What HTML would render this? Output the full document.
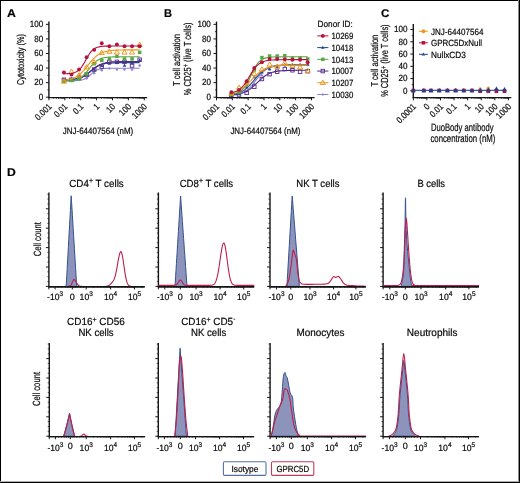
<!DOCTYPE html>
<html><head><meta charset="utf-8"><style>
html,body{margin:0;padding:0;background:#fff;width:520px;height:483px;overflow:hidden}
svg text{font-family:"Liberation Sans",sans-serif;stroke:#231f20;stroke-width:0.22px}
</style></head><body>
<svg width="520" height="483" viewBox="0 0 520 483" text-rendering="geometricPrecision" style="display:block;will-change:transform;font-family:&quot;Liberation Sans&quot;, sans-serif">
<rect width="520" height="483" fill="#fff"/>
<text x="7.00" y="16.60" font-size="11.2" font-weight="bold" textLength="8.9" lengthAdjust="spacingAndGlyphs" fill="#000" >A</text>
<line x1="48.90" y1="21.60" x2="48.90" y2="97.90" stroke="#151515" stroke-width="1.4" />
<line x1="48.30" y1="97.60" x2="147.10" y2="97.60" stroke="#151515" stroke-width="1.4" />
<line x1="45.90" y1="97.20" x2="48.90" y2="97.20" stroke="#151515" stroke-width="1.0" />
<text x="43.30" y="99.90" font-size="9.0" text-anchor="end" textLength="4.5" lengthAdjust="spacingAndGlyphs" >0</text>
<line x1="45.90" y1="82.63" x2="48.90" y2="82.63" stroke="#151515" stroke-width="1.0" />
<text x="43.30" y="85.33" font-size="9.0" text-anchor="end" textLength="9.01" lengthAdjust="spacingAndGlyphs" >20</text>
<line x1="45.90" y1="68.06" x2="48.90" y2="68.06" stroke="#151515" stroke-width="1.0" />
<text x="43.30" y="70.76" font-size="9.0" text-anchor="end" textLength="9.01" lengthAdjust="spacingAndGlyphs" >40</text>
<line x1="45.90" y1="53.49" x2="48.90" y2="53.49" stroke="#151515" stroke-width="1.0" />
<text x="43.30" y="56.19" font-size="9.0" text-anchor="end" textLength="9.01" lengthAdjust="spacingAndGlyphs" >60</text>
<line x1="45.90" y1="38.92" x2="48.90" y2="38.92" stroke="#151515" stroke-width="1.0" />
<text x="43.30" y="41.62" font-size="9.0" text-anchor="end" textLength="9.01" lengthAdjust="spacingAndGlyphs" >80</text>
<line x1="45.90" y1="24.35" x2="48.90" y2="24.35" stroke="#151515" stroke-width="1.0" />
<text x="43.30" y="27.05" font-size="9.0" text-anchor="end" textLength="13.51" lengthAdjust="spacingAndGlyphs" >100</text>
<line x1="47.30" y1="89.92" x2="48.90" y2="89.92" stroke="#151515" stroke-width="0.8" />
<line x1="47.30" y1="75.34" x2="48.90" y2="75.34" stroke="#151515" stroke-width="0.8" />
<line x1="47.30" y1="60.77" x2="48.90" y2="60.77" stroke="#151515" stroke-width="0.8" />
<line x1="47.30" y1="46.20" x2="48.90" y2="46.20" stroke="#151515" stroke-width="0.8" />
<line x1="47.30" y1="31.64" x2="48.90" y2="31.64" stroke="#151515" stroke-width="0.8" />
<line x1="48.90" y1="97.30" x2="48.90" y2="100.30" stroke="#151515" stroke-width="1.0" />
<line x1="53.69" y1="97.30" x2="53.69" y2="98.90" stroke="#151515" stroke-width="0.7" />
<line x1="56.49" y1="97.30" x2="56.49" y2="98.90" stroke="#151515" stroke-width="0.7" />
<line x1="58.47" y1="97.30" x2="58.47" y2="98.90" stroke="#151515" stroke-width="0.7" />
<line x1="60.01" y1="97.30" x2="60.01" y2="98.90" stroke="#151515" stroke-width="0.7" />
<line x1="61.27" y1="97.30" x2="61.27" y2="98.90" stroke="#151515" stroke-width="0.7" />
<line x1="62.34" y1="97.30" x2="62.34" y2="98.90" stroke="#151515" stroke-width="0.7" />
<line x1="63.26" y1="97.30" x2="63.26" y2="98.90" stroke="#151515" stroke-width="0.7" />
<line x1="64.07" y1="97.30" x2="64.07" y2="98.90" stroke="#151515" stroke-width="0.7" />
<text x="52.25" y="107.10" font-size="9.0" text-anchor="end" textLength="19.37" lengthAdjust="spacingAndGlyphs" transform="rotate(-45 52.25 107.10)" >0.001</text>
<line x1="64.80" y1="97.30" x2="64.80" y2="100.30" stroke="#151515" stroke-width="1.0" />
<line x1="69.59" y1="97.30" x2="69.59" y2="98.90" stroke="#151515" stroke-width="0.7" />
<line x1="72.39" y1="97.30" x2="72.39" y2="98.90" stroke="#151515" stroke-width="0.7" />
<line x1="74.37" y1="97.30" x2="74.37" y2="98.90" stroke="#151515" stroke-width="0.7" />
<line x1="75.91" y1="97.30" x2="75.91" y2="98.90" stroke="#151515" stroke-width="0.7" />
<line x1="77.17" y1="97.30" x2="77.17" y2="98.90" stroke="#151515" stroke-width="0.7" />
<line x1="78.24" y1="97.30" x2="78.24" y2="98.90" stroke="#151515" stroke-width="0.7" />
<line x1="79.16" y1="97.30" x2="79.16" y2="98.90" stroke="#151515" stroke-width="0.7" />
<line x1="79.97" y1="97.30" x2="79.97" y2="98.90" stroke="#151515" stroke-width="0.7" />
<text x="68.15" y="107.10" font-size="9.0" text-anchor="end" textLength="15.06" lengthAdjust="spacingAndGlyphs" transform="rotate(-45 68.15 107.10)" >0.01</text>
<line x1="80.70" y1="97.30" x2="80.70" y2="100.30" stroke="#151515" stroke-width="1.0" />
<line x1="85.49" y1="97.30" x2="85.49" y2="98.90" stroke="#151515" stroke-width="0.7" />
<line x1="88.29" y1="97.30" x2="88.29" y2="98.90" stroke="#151515" stroke-width="0.7" />
<line x1="90.27" y1="97.30" x2="90.27" y2="98.90" stroke="#151515" stroke-width="0.7" />
<line x1="91.81" y1="97.30" x2="91.81" y2="98.90" stroke="#151515" stroke-width="0.7" />
<line x1="93.07" y1="97.30" x2="93.07" y2="98.90" stroke="#151515" stroke-width="0.7" />
<line x1="94.14" y1="97.30" x2="94.14" y2="98.90" stroke="#151515" stroke-width="0.7" />
<line x1="95.06" y1="97.30" x2="95.06" y2="98.90" stroke="#151515" stroke-width="0.7" />
<line x1="95.87" y1="97.30" x2="95.87" y2="98.90" stroke="#151515" stroke-width="0.7" />
<text x="84.05" y="107.10" font-size="9.0" text-anchor="end" textLength="10.76" lengthAdjust="spacingAndGlyphs" transform="rotate(-45 84.05 107.10)" >0.1</text>
<line x1="96.60" y1="97.30" x2="96.60" y2="100.30" stroke="#151515" stroke-width="1.0" />
<line x1="101.39" y1="97.30" x2="101.39" y2="98.90" stroke="#151515" stroke-width="0.7" />
<line x1="104.19" y1="97.30" x2="104.19" y2="98.90" stroke="#151515" stroke-width="0.7" />
<line x1="106.17" y1="97.30" x2="106.17" y2="98.90" stroke="#151515" stroke-width="0.7" />
<line x1="107.71" y1="97.30" x2="107.71" y2="98.90" stroke="#151515" stroke-width="0.7" />
<line x1="108.97" y1="97.30" x2="108.97" y2="98.90" stroke="#151515" stroke-width="0.7" />
<line x1="110.04" y1="97.30" x2="110.04" y2="98.90" stroke="#151515" stroke-width="0.7" />
<line x1="110.96" y1="97.30" x2="110.96" y2="98.90" stroke="#151515" stroke-width="0.7" />
<line x1="111.77" y1="97.30" x2="111.77" y2="98.90" stroke="#151515" stroke-width="0.7" />
<text x="99.95" y="107.10" font-size="9.0" text-anchor="end" textLength="4.3" lengthAdjust="spacingAndGlyphs" transform="rotate(-45 99.95 107.10)" >1</text>
<line x1="112.50" y1="97.30" x2="112.50" y2="100.30" stroke="#151515" stroke-width="1.0" />
<line x1="117.29" y1="97.30" x2="117.29" y2="98.90" stroke="#151515" stroke-width="0.7" />
<line x1="120.09" y1="97.30" x2="120.09" y2="98.90" stroke="#151515" stroke-width="0.7" />
<line x1="122.07" y1="97.30" x2="122.07" y2="98.90" stroke="#151515" stroke-width="0.7" />
<line x1="123.61" y1="97.30" x2="123.61" y2="98.90" stroke="#151515" stroke-width="0.7" />
<line x1="124.87" y1="97.30" x2="124.87" y2="98.90" stroke="#151515" stroke-width="0.7" />
<line x1="125.94" y1="97.30" x2="125.94" y2="98.90" stroke="#151515" stroke-width="0.7" />
<line x1="126.86" y1="97.30" x2="126.86" y2="98.90" stroke="#151515" stroke-width="0.7" />
<line x1="127.67" y1="97.30" x2="127.67" y2="98.90" stroke="#151515" stroke-width="0.7" />
<text x="115.85" y="107.10" font-size="9.0" text-anchor="end" textLength="8.61" lengthAdjust="spacingAndGlyphs" transform="rotate(-45 115.85 107.10)" >10</text>
<line x1="128.40" y1="97.30" x2="128.40" y2="100.30" stroke="#151515" stroke-width="1.0" />
<line x1="133.19" y1="97.30" x2="133.19" y2="98.90" stroke="#151515" stroke-width="0.7" />
<line x1="135.99" y1="97.30" x2="135.99" y2="98.90" stroke="#151515" stroke-width="0.7" />
<line x1="137.97" y1="97.30" x2="137.97" y2="98.90" stroke="#151515" stroke-width="0.7" />
<line x1="139.51" y1="97.30" x2="139.51" y2="98.90" stroke="#151515" stroke-width="0.7" />
<line x1="140.77" y1="97.30" x2="140.77" y2="98.90" stroke="#151515" stroke-width="0.7" />
<line x1="141.84" y1="97.30" x2="141.84" y2="98.90" stroke="#151515" stroke-width="0.7" />
<line x1="142.76" y1="97.30" x2="142.76" y2="98.90" stroke="#151515" stroke-width="0.7" />
<line x1="143.57" y1="97.30" x2="143.57" y2="98.90" stroke="#151515" stroke-width="0.7" />
<text x="131.75" y="107.10" font-size="9.0" text-anchor="end" textLength="12.91" lengthAdjust="spacingAndGlyphs" transform="rotate(-45 131.75 107.10)" >100</text>
<line x1="144.30" y1="97.30" x2="144.30" y2="100.30" stroke="#151515" stroke-width="1.0" />
<text x="147.65" y="107.10" font-size="9.0" text-anchor="end" textLength="17.22" lengthAdjust="spacingAndGlyphs" transform="rotate(-45 147.65 107.10)" >1000</text>
<polyline points="63.46,80.80 64.25,80.80 65.05,80.80 65.84,80.80 66.63,80.80 67.43,80.79 68.22,80.79 69.02,80.79 69.81,80.78 70.60,80.77 71.40,80.76 72.19,80.75 72.99,80.74 73.78,80.72 74.57,80.69 75.37,80.67 76.16,80.63 76.95,80.58 77.75,80.53 78.54,80.46 79.34,80.37 80.13,80.26 80.92,80.12 81.72,79.96 82.51,79.76 83.30,79.51 84.10,79.22 84.89,78.87 85.69,78.46 86.48,77.99 87.27,77.45 88.07,76.86 88.86,76.21 89.66,75.51 90.45,74.80 91.24,74.07 92.04,73.36 92.83,72.68 93.62,72.04 94.42,71.45 95.21,70.93 96.01,70.47 96.80,70.07 97.59,69.73 98.39,69.45 99.18,69.22 99.98,69.02 100.77,68.86 101.56,68.73 102.36,68.63 103.15,68.54 103.94,68.48 104.74,68.42 105.53,68.38 106.33,68.34 107.12,68.31 107.91,68.29 108.71,68.27 109.50,68.26 110.29,68.25 111.09,68.24 111.88,68.23 112.68,68.23 113.47,68.22 114.26,68.22 115.06,68.22 115.85,68.21 116.65,68.21 117.44,68.21 118.23,68.21 119.03,68.21 119.82,68.21 120.61,68.21 121.41,68.21 122.20,68.21 123.00,68.21 123.79,68.21 124.58,68.21 125.38,68.21 126.17,68.21 126.97,68.21 127.76,68.21 128.55,68.21 129.35,68.21 130.14,68.21 130.93,68.21 131.73,68.21 132.52,68.21 133.32,68.21 134.11,68.21 134.90,68.21 135.70,68.21 136.49,68.21 137.28,68.21 138.08,68.21 138.87,68.21 139.67,68.21" fill="none" stroke="#8a80cf" stroke-width="1.15"/>
<circle cx="63.90" cy="80.44" r="1.20" fill="#8a80cf"/>
<circle cx="71.47" cy="80.44" r="1.20" fill="#8a80cf"/>
<circle cx="79.05" cy="79.72" r="1.20" fill="#8a80cf"/>
<circle cx="86.62" cy="78.26" r="1.20" fill="#8a80cf"/>
<circle cx="94.20" cy="73.16" r="1.20" fill="#8a80cf"/>
<circle cx="101.78" cy="70.25" r="1.20" fill="#8a80cf"/>
<circle cx="109.35" cy="68.42" r="1.20" fill="#8a80cf"/>
<circle cx="116.92" cy="69.52" r="1.20" fill="#8a80cf"/>
<circle cx="124.50" cy="69.52" r="1.20" fill="#8a80cf"/>
<circle cx="132.07" cy="69.52" r="1.20" fill="#8a80cf"/>
<circle cx="139.65" cy="65.51" r="1.20" fill="#8a80cf"/>
<polyline points="63.46,79.61 64.25,79.59 65.05,79.57 65.84,79.55 66.63,79.53 67.43,79.50 68.22,79.46 69.02,79.42 69.81,79.37 70.60,79.32 71.40,79.26 72.19,79.19 72.99,79.10 73.78,79.01 74.57,78.90 75.37,78.77 76.16,78.63 76.95,78.47 77.75,78.29 78.54,78.08 79.34,77.84 80.13,77.58 80.92,77.28 81.72,76.95 82.51,76.58 83.30,76.18 84.10,75.75 84.89,75.27 85.69,74.76 86.48,74.22 87.27,73.64 88.07,73.05 88.86,72.43 89.66,71.80 90.45,71.16 91.24,70.52 92.04,69.88 92.83,69.27 93.62,68.67 94.42,68.09 95.21,67.55 96.01,67.04 96.80,66.57 97.59,66.13 98.39,65.73 99.18,65.36 99.98,65.03 100.77,64.74 101.56,64.47 102.36,64.24 103.15,64.03 103.94,63.84 104.74,63.68 105.53,63.54 106.33,63.41 107.12,63.30 107.91,63.21 108.71,63.13 109.50,63.06 110.29,62.99 111.09,62.94 111.88,62.89 112.68,62.85 113.47,62.82 114.26,62.79 115.06,62.76 115.85,62.74 116.65,62.72 117.44,62.70 118.23,62.69 119.03,62.67 119.82,62.66 120.61,62.65 121.41,62.65 122.20,62.64 123.00,62.63 123.79,62.63 124.58,62.62 125.38,62.62 126.17,62.62 126.97,62.61 127.76,62.61 128.55,62.61 129.35,62.61 130.14,62.61 130.93,62.60 131.73,62.60 132.52,62.60 133.32,62.60 134.11,62.60 134.90,62.60 135.70,62.60 136.49,62.60 137.28,62.60 138.08,62.60 138.87,62.60 139.67,62.60" fill="none" stroke="#24478f" stroke-width="1.15"/>
<path d="M63.90,77.82 L65.70,80.86 L62.09,80.86Z" fill="#24478f"/>
<path d="M71.47,77.09 L73.28,80.13 L69.67,80.13Z" fill="#24478f"/>
<path d="M79.05,75.63 L80.86,78.67 L77.24,78.67Z" fill="#24478f"/>
<path d="M86.62,72.72 L88.43,75.76 L84.82,75.76Z" fill="#24478f"/>
<path d="M94.20,67.62 L96.01,70.66 L92.39,70.66Z" fill="#24478f"/>
<path d="M101.78,63.97 L103.58,67.01 L99.97,67.01Z" fill="#24478f"/>
<path d="M109.35,61.79 L111.16,64.83 L107.54,64.83Z" fill="#24478f"/>
<path d="M116.92,61.06 L118.73,64.10 L115.12,64.10Z" fill="#24478f"/>
<path d="M124.50,63.61 L126.31,66.65 L122.69,66.65Z" fill="#24478f"/>
<path d="M132.07,61.79 L133.88,64.83 L130.27,64.83Z" fill="#24478f"/>
<path d="M139.65,58.15 L141.46,61.19 L137.84,61.19Z" fill="#24478f"/>
<polyline points="63.46,80.32 64.25,80.30 65.05,80.28 65.84,80.25 66.63,80.22 67.43,80.19 68.22,80.15 69.02,80.10 69.81,80.05 70.60,79.99 71.40,79.93 72.19,79.85 72.99,79.76 73.78,79.66 74.57,79.54 75.37,79.41 76.16,79.26 76.95,79.09 77.75,78.89 78.54,78.68 79.34,78.43 80.13,78.16 80.92,77.85 81.72,77.51 82.51,77.14 83.30,76.73 84.10,76.28 84.89,75.79 85.69,75.27 86.48,74.71 87.27,74.12 88.07,73.50 88.86,72.86 89.66,72.19 90.45,71.52 91.24,70.84 92.04,70.16 92.83,69.49 93.62,68.83 94.42,68.20 95.21,67.59 96.01,67.01 96.80,66.46 97.59,65.96 98.39,65.48 99.18,65.05 99.98,64.65 100.77,64.29 101.56,63.97 102.36,63.68 103.15,63.41 103.94,63.18 104.74,62.97 105.53,62.79 106.33,62.63 107.12,62.48 107.91,62.36 108.71,62.25 109.50,62.15 110.29,62.07 111.09,61.99 111.88,61.93 112.68,61.87 113.47,61.83 114.26,61.78 115.06,61.75 115.85,61.71 116.65,61.69 117.44,61.66 118.23,61.64 119.03,61.62 119.82,61.61 120.61,61.59 121.41,61.58 122.20,61.57 123.00,61.56 123.79,61.55 124.58,61.55 125.38,61.54 126.17,61.54 126.97,61.53 127.76,61.53 128.55,61.52 129.35,61.52 130.14,61.52 130.93,61.52 131.73,61.52 132.52,61.51 133.32,61.51 134.11,61.51 134.90,61.51 135.70,61.51 136.49,61.51 137.28,61.51 138.08,61.51 138.87,61.51 139.67,61.51" fill="none" stroke="#562a8a" stroke-width="1.15"/>
<rect x="62.15" y="77.97" width="3.50" height="3.50" fill="none" stroke="#562a8a" stroke-width="0.9"/>
<rect x="69.72" y="77.97" width="3.50" height="3.50" fill="none" stroke="#562a8a" stroke-width="0.9"/>
<rect x="77.30" y="75.78" width="3.50" height="3.50" fill="none" stroke="#562a8a" stroke-width="0.9"/>
<rect x="84.88" y="72.87" width="3.50" height="3.50" fill="none" stroke="#562a8a" stroke-width="0.9"/>
<rect x="92.45" y="67.77" width="3.50" height="3.50" fill="none" stroke="#562a8a" stroke-width="0.9"/>
<rect x="100.03" y="64.85" width="3.50" height="3.50" fill="none" stroke="#562a8a" stroke-width="0.9"/>
<rect x="107.60" y="60.12" width="3.50" height="3.50" fill="none" stroke="#562a8a" stroke-width="0.9"/>
<rect x="115.17" y="60.12" width="3.50" height="3.50" fill="none" stroke="#562a8a" stroke-width="0.9"/>
<rect x="122.75" y="60.12" width="3.50" height="3.50" fill="none" stroke="#562a8a" stroke-width="0.9"/>
<rect x="130.32" y="63.76" width="3.50" height="3.50" fill="none" stroke="#562a8a" stroke-width="0.9"/>
<rect x="137.90" y="57.93" width="3.50" height="3.50" fill="none" stroke="#562a8a" stroke-width="0.9"/>
<polyline points="63.46,81.06 64.25,81.04 65.05,81.02 65.84,80.99 66.63,80.95 67.43,80.92 68.22,80.87 69.02,80.81 69.81,80.75 70.60,80.68 71.40,80.59 72.19,80.48 72.99,80.36 73.78,80.22 74.57,80.06 75.37,79.87 76.16,79.64 76.95,79.38 77.75,79.09 78.54,78.75 79.34,78.36 80.13,77.91 80.92,77.41 81.72,76.85 82.51,76.22 83.30,75.53 84.10,74.78 84.89,73.96 85.69,73.08 86.48,72.15 87.27,71.19 88.07,70.19 88.86,69.17 89.66,68.16 90.45,67.15 91.24,66.17 92.04,65.23 92.83,64.33 93.62,63.49 94.42,62.70 95.21,61.99 96.01,61.33 96.80,60.75 97.59,60.22 98.39,59.76 99.18,59.34 99.98,58.98 100.77,58.67 101.56,58.40 102.36,58.16 103.15,57.96 103.94,57.78 104.74,57.63 105.53,57.50 106.33,57.39 107.12,57.30 107.91,57.22 108.71,57.15 109.50,57.09 110.29,57.04 111.09,57.00 111.88,56.97 112.68,56.94 113.47,56.91 114.26,56.89 115.06,56.87 115.85,56.85 116.65,56.84 117.44,56.83 118.23,56.82 119.03,56.81 119.82,56.81 120.61,56.80 121.41,56.80 122.20,56.79 123.00,56.79 123.79,56.78 124.58,56.78 125.38,56.78 126.17,56.78 126.97,56.78 127.76,56.78 128.55,56.77 129.35,56.77 130.14,56.77 130.93,56.77 131.73,56.77 132.52,56.77 133.32,56.77 134.11,56.77 134.90,56.77 135.70,56.77 136.49,56.77 137.28,56.77 138.08,56.77 138.87,56.77 139.67,56.77" fill="none" stroke="#58a843" stroke-width="1.15"/>
<rect x="62.15" y="79.42" width="3.50" height="3.50" fill="#58a843"/>
<rect x="69.72" y="78.69" width="3.50" height="3.50" fill="#58a843"/>
<rect x="77.30" y="77.24" width="3.50" height="3.50" fill="#58a843"/>
<rect x="84.88" y="72.14" width="3.50" height="3.50" fill="#58a843"/>
<rect x="92.45" y="61.94" width="3.50" height="3.50" fill="#58a843"/>
<rect x="100.03" y="58.66" width="3.50" height="3.50" fill="#58a843"/>
<rect x="107.60" y="57.20" width="3.50" height="3.50" fill="#58a843"/>
<rect x="115.17" y="54.65" width="3.50" height="3.50" fill="#58a843"/>
<rect x="122.75" y="57.20" width="3.50" height="3.50" fill="#58a843"/>
<rect x="130.32" y="57.20" width="3.50" height="3.50" fill="#58a843"/>
<rect x="137.90" y="50.65" width="3.50" height="3.50" fill="#58a843"/>
<polyline points="63.46,80.24 64.25,80.16 65.05,80.07 65.84,79.97 66.63,79.86 67.43,79.74 68.22,79.59 69.02,79.43 69.81,79.25 70.60,79.05 71.40,78.83 72.19,78.57 72.99,78.29 73.78,77.98 74.57,77.63 75.37,77.24 76.16,76.81 76.95,76.34 77.75,75.82 78.54,75.26 79.34,74.65 80.13,73.99 80.92,73.28 81.72,72.52 82.51,71.71 83.30,70.86 84.10,69.97 84.89,69.05 85.69,68.09 86.48,67.12 87.27,66.13 88.07,65.13 88.86,64.13 89.66,63.15 90.45,62.18 91.24,61.24 92.04,60.32 92.83,59.45 93.62,58.62 94.42,57.83 95.21,57.09 96.01,56.40 96.80,55.76 97.59,55.17 98.39,54.62 99.18,54.12 99.98,53.67 100.77,53.26 101.56,52.89 102.36,52.55 103.15,52.25 103.94,51.98 104.74,51.74 105.53,51.52 106.33,51.33 107.12,51.16 107.91,51.00 108.71,50.87 109.50,50.75 110.29,50.64 111.09,50.55 111.88,50.47 112.68,50.39 113.47,50.33 114.26,50.27 115.06,50.22 115.85,50.17 116.65,50.14 117.44,50.10 118.23,50.07 119.03,50.04 119.82,50.02 120.61,50.00 121.41,49.98 122.20,49.96 123.00,49.95 123.79,49.94 124.58,49.93 125.38,49.92 126.17,49.91 126.97,49.90 127.76,49.90 128.55,49.89 129.35,49.88 130.14,49.88 130.93,49.88 131.73,49.87 132.52,49.87 133.32,49.87 134.11,49.86 134.90,49.86 135.70,49.86 136.49,49.86 137.28,49.86 138.08,49.86 138.87,49.86 139.67,49.85" fill="none" stroke="#ec981c" stroke-width="1.15"/>
<path d="M63.90,78.84 L66.47,83.16 L61.34,83.16Z" fill="none" stroke="#ec981c" stroke-width="1.0"/>
<path d="M71.47,69.00 L74.04,73.32 L68.91,73.32Z" fill="none" stroke="#ec981c" stroke-width="1.0"/>
<path d="M79.05,72.64 L81.61,76.97 L76.48,76.97Z" fill="none" stroke="#ec981c" stroke-width="1.0"/>
<path d="M86.62,64.63 L89.19,68.95 L84.06,68.95Z" fill="none" stroke="#ec981c" stroke-width="1.0"/>
<path d="M94.20,59.53 L96.77,63.85 L91.64,63.85Z" fill="none" stroke="#ec981c" stroke-width="1.0"/>
<path d="M101.78,50.06 L104.34,54.38 L99.21,54.38Z" fill="none" stroke="#ec981c" stroke-width="1.0"/>
<path d="M109.35,48.97 L111.91,53.29 L106.78,53.29Z" fill="none" stroke="#ec981c" stroke-width="1.0"/>
<path d="M116.92,49.70 L119.49,54.02 L114.36,54.02Z" fill="none" stroke="#ec981c" stroke-width="1.0"/>
<path d="M124.50,49.70 L127.06,54.02 L121.94,54.02Z" fill="none" stroke="#ec981c" stroke-width="1.0"/>
<path d="M132.07,49.70 L134.64,54.02 L129.51,54.02Z" fill="none" stroke="#ec981c" stroke-width="1.0"/>
<path d="M139.65,42.05 L142.22,46.37 L137.09,46.37Z" fill="none" stroke="#ec981c" stroke-width="1.0"/>
<polyline points="63.46,73.81 64.25,73.79 65.05,73.77 65.84,73.74 66.63,73.70 67.43,73.66 68.22,73.61 69.02,73.55 69.81,73.47 70.60,73.38 71.40,73.26 72.19,73.12 72.99,72.95 73.78,72.74 74.57,72.49 75.37,72.19 76.16,71.83 76.95,71.39 77.75,70.88 78.54,70.28 79.34,69.58 80.13,68.76 80.92,67.84 81.72,66.80 82.51,65.65 83.30,64.40 84.10,63.06 84.89,61.66 85.69,60.23 86.48,58.78 87.27,57.37 88.07,56.00 88.86,54.71 89.66,53.52 90.45,52.44 91.24,51.47 92.04,50.61 92.83,49.86 93.62,49.22 94.42,48.68 95.21,48.21 96.01,47.82 96.80,47.50 97.59,47.23 98.39,47.00 99.18,46.82 99.98,46.67 100.77,46.54 101.56,46.44 102.36,46.36 103.15,46.29 103.94,46.23 104.74,46.19 105.53,46.15 106.33,46.12 107.12,46.09 107.91,46.07 108.71,46.06 109.50,46.04 110.29,46.03 111.09,46.02 111.88,46.02 112.68,46.01 113.47,46.01 114.26,46.00 115.06,46.00 115.85,46.00 116.65,46.00 117.44,45.99 118.23,45.99 119.03,45.99 119.82,45.99 120.61,45.99 121.41,45.99 122.20,45.99 123.00,45.99 123.79,45.99 124.58,45.99 125.38,45.99 126.17,45.99 126.97,45.99 127.76,45.99 128.55,45.99 129.35,45.99 130.14,45.99 130.93,45.99 131.73,45.99 132.52,45.99 133.32,45.99 134.11,45.99 134.90,45.99 135.70,45.99 136.49,45.99 137.28,45.99 138.08,45.99 138.87,45.99 139.67,45.99" fill="none" stroke="#b5123f" stroke-width="1.15"/>
<circle cx="63.90" cy="72.43" r="1.95" fill="#b5123f"/>
<circle cx="71.47" cy="74.62" r="1.95" fill="#b5123f"/>
<circle cx="79.05" cy="69.52" r="1.95" fill="#b5123f"/>
<circle cx="86.62" cy="57.13" r="1.95" fill="#b5123f"/>
<circle cx="94.20" cy="49.85" r="1.95" fill="#b5123f"/>
<circle cx="101.78" cy="43.29" r="1.95" fill="#b5123f"/>
<circle cx="109.35" cy="46.20" r="1.95" fill="#b5123f"/>
<circle cx="116.92" cy="44.38" r="1.95" fill="#b5123f"/>
<circle cx="124.50" cy="46.20" r="1.95" fill="#b5123f"/>
<circle cx="132.07" cy="46.20" r="1.95" fill="#b5123f"/>
<circle cx="139.65" cy="46.20" r="1.95" fill="#b5123f"/>
<text x="24.40" y="59.60" font-size="10" text-anchor="middle" textLength="51" lengthAdjust="spacingAndGlyphs" transform="rotate(-90 24.40 59.60)" >Cytotoxicity (%)</text>
<text x="98.00" y="133.50" font-size="9.2" text-anchor="middle" textLength="70.4" lengthAdjust="spacingAndGlyphs" >JNJ-64407564 (nM)</text>
<text x="164.00" y="16.60" font-size="11.2" font-weight="bold" textLength="8.0" lengthAdjust="spacingAndGlyphs" fill="#000" >B</text>
<line x1="216.50" y1="21.60" x2="216.50" y2="97.90" stroke="#151515" stroke-width="1.4" />
<line x1="215.90" y1="97.60" x2="314.50" y2="97.60" stroke="#151515" stroke-width="1.4" />
<line x1="213.50" y1="97.20" x2="216.50" y2="97.20" stroke="#151515" stroke-width="1.0" />
<text x="210.90" y="99.90" font-size="9.0" text-anchor="end" textLength="4.5" lengthAdjust="spacingAndGlyphs" >0</text>
<line x1="213.50" y1="82.63" x2="216.50" y2="82.63" stroke="#151515" stroke-width="1.0" />
<text x="210.90" y="85.33" font-size="9.0" text-anchor="end" textLength="9.01" lengthAdjust="spacingAndGlyphs" >20</text>
<line x1="213.50" y1="68.06" x2="216.50" y2="68.06" stroke="#151515" stroke-width="1.0" />
<text x="210.90" y="70.76" font-size="9.0" text-anchor="end" textLength="9.01" lengthAdjust="spacingAndGlyphs" >40</text>
<line x1="213.50" y1="53.49" x2="216.50" y2="53.49" stroke="#151515" stroke-width="1.0" />
<text x="210.90" y="56.19" font-size="9.0" text-anchor="end" textLength="9.01" lengthAdjust="spacingAndGlyphs" >60</text>
<line x1="213.50" y1="38.92" x2="216.50" y2="38.92" stroke="#151515" stroke-width="1.0" />
<text x="210.90" y="41.62" font-size="9.0" text-anchor="end" textLength="9.01" lengthAdjust="spacingAndGlyphs" >80</text>
<line x1="213.50" y1="24.35" x2="216.50" y2="24.35" stroke="#151515" stroke-width="1.0" />
<text x="210.90" y="27.05" font-size="9.0" text-anchor="end" textLength="13.51" lengthAdjust="spacingAndGlyphs" >100</text>
<line x1="214.90" y1="89.92" x2="216.50" y2="89.92" stroke="#151515" stroke-width="0.8" />
<line x1="214.90" y1="75.34" x2="216.50" y2="75.34" stroke="#151515" stroke-width="0.8" />
<line x1="214.90" y1="60.77" x2="216.50" y2="60.77" stroke="#151515" stroke-width="0.8" />
<line x1="214.90" y1="46.20" x2="216.50" y2="46.20" stroke="#151515" stroke-width="0.8" />
<line x1="214.90" y1="31.64" x2="216.50" y2="31.64" stroke="#151515" stroke-width="0.8" />
<line x1="216.50" y1="97.30" x2="216.50" y2="100.30" stroke="#151515" stroke-width="1.0" />
<line x1="221.27" y1="97.30" x2="221.27" y2="98.90" stroke="#151515" stroke-width="0.7" />
<line x1="224.05" y1="97.30" x2="224.05" y2="98.90" stroke="#151515" stroke-width="0.7" />
<line x1="226.03" y1="97.30" x2="226.03" y2="98.90" stroke="#151515" stroke-width="0.7" />
<line x1="227.56" y1="97.30" x2="227.56" y2="98.90" stroke="#151515" stroke-width="0.7" />
<line x1="228.82" y1="97.30" x2="228.82" y2="98.90" stroke="#151515" stroke-width="0.7" />
<line x1="229.88" y1="97.30" x2="229.88" y2="98.90" stroke="#151515" stroke-width="0.7" />
<line x1="230.80" y1="97.30" x2="230.80" y2="98.90" stroke="#151515" stroke-width="0.7" />
<line x1="231.61" y1="97.30" x2="231.61" y2="98.90" stroke="#151515" stroke-width="0.7" />
<text x="219.85" y="107.10" font-size="9.0" text-anchor="end" textLength="19.37" lengthAdjust="spacingAndGlyphs" transform="rotate(-45 219.85 107.10)" >0.001</text>
<line x1="232.33" y1="97.30" x2="232.33" y2="100.30" stroke="#151515" stroke-width="1.0" />
<line x1="237.10" y1="97.30" x2="237.10" y2="98.90" stroke="#151515" stroke-width="0.7" />
<line x1="239.88" y1="97.30" x2="239.88" y2="98.90" stroke="#151515" stroke-width="0.7" />
<line x1="241.86" y1="97.30" x2="241.86" y2="98.90" stroke="#151515" stroke-width="0.7" />
<line x1="243.39" y1="97.30" x2="243.39" y2="98.90" stroke="#151515" stroke-width="0.7" />
<line x1="244.65" y1="97.30" x2="244.65" y2="98.90" stroke="#151515" stroke-width="0.7" />
<line x1="245.71" y1="97.30" x2="245.71" y2="98.90" stroke="#151515" stroke-width="0.7" />
<line x1="246.63" y1="97.30" x2="246.63" y2="98.90" stroke="#151515" stroke-width="0.7" />
<line x1="247.44" y1="97.30" x2="247.44" y2="98.90" stroke="#151515" stroke-width="0.7" />
<text x="235.68" y="107.10" font-size="9.0" text-anchor="end" textLength="15.06" lengthAdjust="spacingAndGlyphs" transform="rotate(-45 235.68 107.10)" >0.01</text>
<line x1="248.16" y1="97.30" x2="248.16" y2="100.30" stroke="#151515" stroke-width="1.0" />
<line x1="252.93" y1="97.30" x2="252.93" y2="98.90" stroke="#151515" stroke-width="0.7" />
<line x1="255.71" y1="97.30" x2="255.71" y2="98.90" stroke="#151515" stroke-width="0.7" />
<line x1="257.69" y1="97.30" x2="257.69" y2="98.90" stroke="#151515" stroke-width="0.7" />
<line x1="259.22" y1="97.30" x2="259.22" y2="98.90" stroke="#151515" stroke-width="0.7" />
<line x1="260.48" y1="97.30" x2="260.48" y2="98.90" stroke="#151515" stroke-width="0.7" />
<line x1="261.54" y1="97.30" x2="261.54" y2="98.90" stroke="#151515" stroke-width="0.7" />
<line x1="262.46" y1="97.30" x2="262.46" y2="98.90" stroke="#151515" stroke-width="0.7" />
<line x1="263.27" y1="97.30" x2="263.27" y2="98.90" stroke="#151515" stroke-width="0.7" />
<text x="251.51" y="107.10" font-size="9.0" text-anchor="end" textLength="10.76" lengthAdjust="spacingAndGlyphs" transform="rotate(-45 251.51 107.10)" >0.1</text>
<line x1="263.99" y1="97.30" x2="263.99" y2="100.30" stroke="#151515" stroke-width="1.0" />
<line x1="268.76" y1="97.30" x2="268.76" y2="98.90" stroke="#151515" stroke-width="0.7" />
<line x1="271.54" y1="97.30" x2="271.54" y2="98.90" stroke="#151515" stroke-width="0.7" />
<line x1="273.52" y1="97.30" x2="273.52" y2="98.90" stroke="#151515" stroke-width="0.7" />
<line x1="275.05" y1="97.30" x2="275.05" y2="98.90" stroke="#151515" stroke-width="0.7" />
<line x1="276.31" y1="97.30" x2="276.31" y2="98.90" stroke="#151515" stroke-width="0.7" />
<line x1="277.37" y1="97.30" x2="277.37" y2="98.90" stroke="#151515" stroke-width="0.7" />
<line x1="278.29" y1="97.30" x2="278.29" y2="98.90" stroke="#151515" stroke-width="0.7" />
<line x1="279.10" y1="97.30" x2="279.10" y2="98.90" stroke="#151515" stroke-width="0.7" />
<text x="267.34" y="107.10" font-size="9.0" text-anchor="end" textLength="4.3" lengthAdjust="spacingAndGlyphs" transform="rotate(-45 267.34 107.10)" >1</text>
<line x1="279.82" y1="97.30" x2="279.82" y2="100.30" stroke="#151515" stroke-width="1.0" />
<line x1="284.59" y1="97.30" x2="284.59" y2="98.90" stroke="#151515" stroke-width="0.7" />
<line x1="287.37" y1="97.30" x2="287.37" y2="98.90" stroke="#151515" stroke-width="0.7" />
<line x1="289.35" y1="97.30" x2="289.35" y2="98.90" stroke="#151515" stroke-width="0.7" />
<line x1="290.88" y1="97.30" x2="290.88" y2="98.90" stroke="#151515" stroke-width="0.7" />
<line x1="292.14" y1="97.30" x2="292.14" y2="98.90" stroke="#151515" stroke-width="0.7" />
<line x1="293.20" y1="97.30" x2="293.20" y2="98.90" stroke="#151515" stroke-width="0.7" />
<line x1="294.12" y1="97.30" x2="294.12" y2="98.90" stroke="#151515" stroke-width="0.7" />
<line x1="294.93" y1="97.30" x2="294.93" y2="98.90" stroke="#151515" stroke-width="0.7" />
<text x="283.17" y="107.10" font-size="9.0" text-anchor="end" textLength="8.61" lengthAdjust="spacingAndGlyphs" transform="rotate(-45 283.17 107.10)" >10</text>
<line x1="295.65" y1="97.30" x2="295.65" y2="100.30" stroke="#151515" stroke-width="1.0" />
<line x1="300.42" y1="97.30" x2="300.42" y2="98.90" stroke="#151515" stroke-width="0.7" />
<line x1="303.20" y1="97.30" x2="303.20" y2="98.90" stroke="#151515" stroke-width="0.7" />
<line x1="305.18" y1="97.30" x2="305.18" y2="98.90" stroke="#151515" stroke-width="0.7" />
<line x1="306.71" y1="97.30" x2="306.71" y2="98.90" stroke="#151515" stroke-width="0.7" />
<line x1="307.97" y1="97.30" x2="307.97" y2="98.90" stroke="#151515" stroke-width="0.7" />
<line x1="309.03" y1="97.30" x2="309.03" y2="98.90" stroke="#151515" stroke-width="0.7" />
<line x1="309.95" y1="97.30" x2="309.95" y2="98.90" stroke="#151515" stroke-width="0.7" />
<line x1="310.76" y1="97.30" x2="310.76" y2="98.90" stroke="#151515" stroke-width="0.7" />
<text x="299.00" y="107.10" font-size="9.0" text-anchor="end" textLength="12.91" lengthAdjust="spacingAndGlyphs" transform="rotate(-45 299.00 107.10)" >100</text>
<line x1="311.48" y1="97.30" x2="311.48" y2="100.30" stroke="#151515" stroke-width="1.0" />
<text x="314.83" y="107.10" font-size="9.0" text-anchor="end" textLength="17.22" lengthAdjust="spacingAndGlyphs" transform="rotate(-45 314.83 107.10)" >1000</text>
<polyline points="230.96,95.33 231.76,95.27 232.56,95.20 233.35,95.12 234.15,95.03 234.95,94.92 235.75,94.81 236.55,94.67 237.35,94.52 238.15,94.35 238.95,94.15 239.75,93.93 240.55,93.68 241.35,93.39 242.15,93.08 242.95,92.72 243.75,92.32 244.55,91.88 245.35,91.39 246.15,90.85 246.95,90.25 247.75,89.60 248.55,88.89 249.35,88.13 250.15,87.31 250.95,86.45 251.75,85.53 252.54,84.57 253.34,83.57 254.14,82.54 254.94,81.50 255.74,80.44 256.54,79.39 257.34,78.34 258.14,77.32 258.94,76.32 259.74,75.36 260.54,74.44 261.34,73.57 262.14,72.76 262.94,71.99 263.74,71.29 264.54,70.64 265.34,70.04 266.14,69.50 266.94,69.01 267.74,68.57 268.54,68.17 269.34,67.81 270.14,67.50 270.94,67.21 271.74,66.96 272.53,66.74 273.33,66.54 274.13,66.37 274.93,66.22 275.73,66.08 276.53,65.97 277.33,65.86 278.13,65.77 278.93,65.69 279.73,65.62 280.53,65.56 281.33,65.51 282.13,65.46 282.93,65.42 283.73,65.39 284.53,65.36 285.33,65.33 286.13,65.31 286.93,65.29 287.73,65.27 288.53,65.25 289.33,65.24 290.13,65.23 290.93,65.22 291.72,65.21 292.52,65.20 293.32,65.19 294.12,65.19 294.92,65.18 295.72,65.18 296.52,65.17 297.32,65.17 298.12,65.17 298.92,65.16 299.72,65.16 300.52,65.16 301.32,65.16 302.12,65.16 302.92,65.15 303.72,65.15 304.52,65.15 305.32,65.15 306.12,65.15 306.92,65.15 307.72,65.15" fill="none" stroke="#8a80cf" stroke-width="1.15"/>
<circle cx="231.40" cy="95.74" r="1.20" fill="#8a80cf"/>
<circle cx="239.03" cy="94.29" r="1.20" fill="#8a80cf"/>
<circle cx="246.66" cy="91.37" r="1.20" fill="#8a80cf"/>
<circle cx="254.29" cy="84.09" r="1.20" fill="#8a80cf"/>
<circle cx="261.92" cy="75.34" r="1.20" fill="#8a80cf"/>
<circle cx="269.55" cy="69.52" r="1.20" fill="#8a80cf"/>
<circle cx="277.18" cy="67.33" r="1.20" fill="#8a80cf"/>
<circle cx="284.81" cy="65.87" r="1.20" fill="#8a80cf"/>
<circle cx="292.44" cy="65.15" r="1.20" fill="#8a80cf"/>
<circle cx="300.07" cy="65.15" r="1.20" fill="#8a80cf"/>
<circle cx="307.70" cy="65.15" r="1.20" fill="#8a80cf"/>
<polyline points="230.96,94.62 231.76,94.52 232.56,94.41 233.35,94.28 234.15,94.14 234.95,93.98 235.75,93.80 236.55,93.60 237.35,93.38 238.15,93.13 238.95,92.85 239.75,92.54 240.55,92.19 241.35,91.82 242.15,91.40 242.95,90.94 243.75,90.43 244.55,89.89 245.35,89.29 246.15,88.65 246.95,87.96 247.75,87.23 248.55,86.45 249.35,85.63 250.15,84.77 250.95,83.87 251.75,82.95 252.54,82.01 253.34,81.05 254.14,80.08 254.94,79.11 255.74,78.15 256.54,77.21 257.34,76.29 258.14,75.39 258.94,74.53 259.74,73.71 260.54,72.93 261.34,72.20 262.14,71.51 262.94,70.87 263.74,70.27 264.54,69.73 265.34,69.22 266.14,68.76 266.94,68.35 267.74,67.97 268.54,67.62 269.34,67.31 270.14,67.03 270.94,66.78 271.74,66.56 272.53,66.36 273.33,66.18 274.13,66.02 274.93,65.88 275.73,65.75 276.53,65.64 277.33,65.54 278.13,65.45 278.93,65.37 279.73,65.30 280.53,65.24 281.33,65.19 282.13,65.14 282.93,65.10 283.73,65.06 284.53,65.03 285.33,65.00 286.13,64.97 286.93,64.95 287.73,64.93 288.53,64.91 289.33,64.90 290.13,64.88 290.93,64.87 291.72,64.86 292.52,64.85 293.32,64.84 294.12,64.84 294.92,64.83 295.72,64.82 296.52,64.82 297.32,64.81 298.12,64.81 298.92,64.81 299.72,64.80 300.52,64.80 301.32,64.80 302.12,64.80 302.92,64.80 303.72,64.79 304.52,64.79 305.32,64.79 306.12,64.79 306.92,64.79 307.72,64.79" fill="none" stroke="#24478f" stroke-width="1.15"/>
<path d="M231.40,93.11 L233.21,96.15 L229.59,96.15Z" fill="#24478f"/>
<path d="M239.03,91.66 L240.84,94.70 L237.22,94.70Z" fill="#24478f"/>
<path d="M246.66,85.39 L248.47,88.43 L244.85,88.43Z" fill="#24478f"/>
<path d="M254.29,75.27 L256.10,78.31 L252.49,78.31Z" fill="#24478f"/>
<path d="M261.92,70.53 L263.73,73.57 L260.12,73.57Z" fill="#24478f"/>
<path d="M269.55,67.18 L271.36,70.22 L267.75,70.22Z" fill="#24478f"/>
<path d="M277.18,65.43 L278.99,68.47 L275.38,68.47Z" fill="#24478f"/>
<path d="M284.81,62.66 L286.62,65.70 L283.00,65.70Z" fill="#24478f"/>
<path d="M292.44,62.66 L294.25,65.70 L290.63,65.70Z" fill="#24478f"/>
<path d="M300.07,62.66 L301.88,65.70 L298.26,65.70Z" fill="#24478f"/>
<path d="M307.70,62.81 L309.50,65.85 L305.89,65.85Z" fill="#24478f"/>
<polyline points="230.96,94.64 231.76,94.59 232.56,94.54 233.35,94.47 234.15,94.40 234.95,94.32 235.75,94.23 236.55,94.13 237.35,94.01 238.15,93.88 238.95,93.74 239.75,93.58 240.55,93.39 241.35,93.19 242.15,92.97 242.95,92.72 243.75,92.44 244.55,92.13 245.35,91.79 246.15,91.42 246.95,91.01 247.75,90.57 248.55,90.09 249.35,89.57 250.15,89.01 250.95,88.42 251.75,87.79 252.54,87.12 253.34,86.43 254.14,85.70 254.94,84.95 255.74,84.19 256.54,83.41 257.34,82.63 258.14,81.85 258.94,81.07 259.74,80.31 260.54,79.56 261.34,78.83 262.14,78.14 262.94,77.47 263.74,76.84 264.54,76.25 265.34,75.69 266.14,75.17 266.94,74.69 267.74,74.25 268.54,73.84 269.34,73.47 270.14,73.13 270.94,72.82 271.74,72.54 272.53,72.29 273.33,72.07 274.13,71.87 274.93,71.68 275.73,71.52 276.53,71.38 277.33,71.25 278.13,71.13 278.93,71.03 279.73,70.94 280.53,70.86 281.33,70.79 282.13,70.72 282.93,70.67 283.73,70.62 284.53,70.58 285.33,70.54 286.13,70.50 286.93,70.47 287.73,70.45 288.53,70.42 289.33,70.40 290.13,70.38 290.93,70.37 291.72,70.35 292.52,70.34 293.32,70.33 294.12,70.32 294.92,70.31 295.72,70.30 296.52,70.30 297.32,70.29 298.12,70.28 298.92,70.28 299.72,70.28 300.52,70.27 301.32,70.27 302.12,70.27 302.92,70.26 303.72,70.26 304.52,70.26 305.32,70.26 306.12,70.26 306.92,70.26 307.72,70.25" fill="none" stroke="#562a8a" stroke-width="1.15"/>
<rect x="229.65" y="93.26" width="3.50" height="3.50" fill="none" stroke="#562a8a" stroke-width="0.9"/>
<rect x="237.28" y="92.75" width="3.50" height="3.50" fill="none" stroke="#562a8a" stroke-width="0.9"/>
<rect x="244.91" y="91.08" width="3.50" height="3.50" fill="none" stroke="#562a8a" stroke-width="0.9"/>
<rect x="252.54" y="84.96" width="3.50" height="3.50" fill="none" stroke="#562a8a" stroke-width="0.9"/>
<rect x="260.17" y="77.24" width="3.50" height="3.50" fill="none" stroke="#562a8a" stroke-width="0.9"/>
<rect x="267.80" y="72.43" width="3.50" height="3.50" fill="none" stroke="#562a8a" stroke-width="0.9"/>
<rect x="275.43" y="69.95" width="3.50" height="3.50" fill="none" stroke="#562a8a" stroke-width="0.9"/>
<rect x="283.06" y="67.33" width="3.50" height="3.50" fill="none" stroke="#562a8a" stroke-width="0.9"/>
<rect x="290.69" y="68.50" width="3.50" height="3.50" fill="none" stroke="#562a8a" stroke-width="0.9"/>
<rect x="298.32" y="69.95" width="3.50" height="3.50" fill="none" stroke="#562a8a" stroke-width="0.9"/>
<rect x="305.95" y="69.44" width="3.50" height="3.50" fill="none" stroke="#562a8a" stroke-width="0.9"/>
<polyline points="230.96,93.91 231.76,93.84 232.56,93.75 233.35,93.65 234.15,93.52 234.95,93.37 235.75,93.19 236.55,92.97 237.35,92.72 238.15,92.42 238.95,92.06 239.75,91.64 240.55,91.15 241.35,90.58 242.15,89.92 242.95,89.15 243.75,88.28 244.55,87.29 245.35,86.18 246.15,84.95 246.95,83.60 247.75,82.14 248.55,80.58 249.35,78.94 250.15,77.25 250.95,75.53 251.75,73.80 252.54,72.11 253.34,70.47 254.14,68.91 254.94,67.45 255.74,66.10 256.54,64.87 257.34,63.76 258.14,62.77 258.94,61.90 259.74,61.14 260.54,60.48 261.34,59.90 262.14,59.41 262.94,58.99 263.74,58.64 264.54,58.34 265.34,58.08 266.14,57.87 266.94,57.69 267.74,57.54 268.54,57.41 269.34,57.30 270.14,57.21 270.94,57.14 271.74,57.08 272.53,57.03 273.33,56.98 274.13,56.95 274.93,56.92 275.73,56.89 276.53,56.87 277.33,56.85 278.13,56.84 278.93,56.83 279.73,56.82 280.53,56.81 281.33,56.80 282.13,56.80 282.93,56.79 283.73,56.79 284.53,56.78 285.33,56.78 286.13,56.78 286.93,56.78 287.73,56.78 288.53,56.77 289.33,56.77 290.13,56.77 290.93,56.77 291.72,56.77 292.52,56.77 293.32,56.77 294.12,56.77 294.92,56.77 295.72,56.77 296.52,56.77 297.32,56.77 298.12,56.77 298.92,56.77 299.72,56.77 300.52,56.77 301.32,56.77 302.12,56.77 302.92,56.77 303.72,56.77 304.52,56.77 305.32,56.77 306.12,56.77 306.92,56.77 307.72,56.77" fill="none" stroke="#58a843" stroke-width="1.15"/>
<rect x="229.65" y="92.54" width="3.50" height="3.50" fill="#58a843"/>
<rect x="237.28" y="90.35" width="3.50" height="3.50" fill="#58a843"/>
<rect x="244.91" y="83.07" width="3.50" height="3.50" fill="#58a843"/>
<rect x="252.54" y="68.20" width="3.50" height="3.50" fill="#58a843"/>
<rect x="260.17" y="55.82" width="3.50" height="3.50" fill="#58a843"/>
<rect x="267.80" y="54.29" width="3.50" height="3.50" fill="#58a843"/>
<rect x="275.43" y="54.29" width="3.50" height="3.50" fill="#58a843"/>
<rect x="283.06" y="53.93" width="3.50" height="3.50" fill="#58a843"/>
<rect x="290.69" y="56.48" width="3.50" height="3.50" fill="#58a843"/>
<rect x="298.32" y="56.48" width="3.50" height="3.50" fill="#58a843"/>
<rect x="305.95" y="57.13" width="3.50" height="3.50" fill="#58a843"/>
<polyline points="230.96,92.90 231.76,92.73 232.56,92.56 233.35,92.36 234.15,92.14 234.95,91.90 235.75,91.64 236.55,91.35 237.35,91.03 238.15,90.68 238.95,90.30 239.75,89.89 240.55,89.44 241.35,88.96 242.15,88.44 242.95,87.88 243.75,87.29 244.55,86.65 245.35,85.99 246.15,85.29 246.95,84.56 247.75,83.80 248.55,83.01 249.35,82.21 250.15,81.39 250.95,80.55 251.75,79.72 252.54,78.88 253.34,78.05 254.14,77.22 254.94,76.42 255.74,75.63 256.54,74.87 257.34,74.14 258.14,73.44 258.94,72.78 259.74,72.15 260.54,71.55 261.34,71.00 262.14,70.48 262.94,69.99 263.74,69.55 264.54,69.13 265.34,68.75 266.14,68.40 266.94,68.09 267.74,67.80 268.54,67.53 269.34,67.29 270.14,67.07 270.94,66.88 271.74,66.70 272.53,66.54 273.33,66.39 274.13,66.26 274.93,66.14 275.73,66.04 276.53,65.94 277.33,65.86 278.13,65.78 278.93,65.72 279.73,65.66 280.53,65.60 281.33,65.55 282.13,65.51 282.93,65.47 283.73,65.43 284.53,65.40 285.33,65.38 286.13,65.35 286.93,65.33 287.73,65.31 288.53,65.29 289.33,65.28 290.13,65.26 290.93,65.25 291.72,65.24 292.52,65.23 293.32,65.22 294.12,65.21 294.92,65.20 295.72,65.20 296.52,65.19 297.32,65.19 298.12,65.18 298.92,65.18 299.72,65.18 300.52,65.17 301.32,65.17 302.12,65.17 302.92,65.16 303.72,65.16 304.52,65.16 305.32,65.16 306.12,65.16 306.92,65.16 307.72,65.16" fill="none" stroke="#ec981c" stroke-width="1.15"/>
<path d="M231.40,90.86 L233.97,95.18 L228.84,95.18Z" fill="none" stroke="#ec981c" stroke-width="1.0"/>
<path d="M239.03,85.03 L241.59,89.35 L236.47,89.35Z" fill="none" stroke="#ec981c" stroke-width="1.0"/>
<path d="M246.66,79.93 L249.22,84.25 L244.09,84.25Z" fill="none" stroke="#ec981c" stroke-width="1.0"/>
<path d="M254.29,71.19 L256.86,75.51 L251.73,75.51Z" fill="none" stroke="#ec981c" stroke-width="1.0"/>
<path d="M261.92,66.82 L264.49,71.14 L259.36,71.14Z" fill="none" stroke="#ec981c" stroke-width="1.0"/>
<path d="M269.55,61.86 L272.12,66.18 L266.99,66.18Z" fill="none" stroke="#ec981c" stroke-width="1.0"/>
<path d="M277.18,63.90 L279.75,68.22 L274.62,68.22Z" fill="none" stroke="#ec981c" stroke-width="1.0"/>
<path d="M284.81,60.26 L287.38,64.58 L282.25,64.58Z" fill="none" stroke="#ec981c" stroke-width="1.0"/>
<path d="M292.44,63.17 L295.00,67.49 L289.88,67.49Z" fill="none" stroke="#ec981c" stroke-width="1.0"/>
<path d="M300.07,64.63 L302.63,68.95 L297.50,68.95Z" fill="none" stroke="#ec981c" stroke-width="1.0"/>
<path d="M307.70,68.06 L310.26,72.38 L305.13,72.38Z" fill="none" stroke="#ec981c" stroke-width="1.0"/>
<polyline points="230.96,92.75 231.76,92.61 232.56,92.45 233.35,92.26 234.15,92.04 234.95,91.79 235.75,91.50 236.55,91.17 237.35,90.79 238.15,90.35 238.95,89.85 239.75,89.28 240.55,88.64 241.35,87.92 242.15,87.12 242.95,86.24 243.75,85.28 244.55,84.23 245.35,83.10 246.15,81.90 246.95,80.64 247.75,79.33 248.55,77.98 249.35,76.62 250.15,75.26 250.95,73.91 251.75,72.60 252.54,71.34 253.34,70.14 254.14,69.01 254.94,67.96 255.74,67.00 256.54,66.12 257.34,65.32 258.14,64.60 258.94,63.96 259.74,63.39 260.54,62.89 261.34,62.45 262.14,62.07 262.94,61.74 263.74,61.45 264.54,61.20 265.34,60.98 266.14,60.79 266.94,60.63 267.74,60.49 268.54,60.38 269.34,60.27 270.14,60.19 270.94,60.11 271.74,60.05 272.53,60.00 273.33,59.95 274.13,59.91 274.93,59.88 275.73,59.85 276.53,59.82 277.33,59.80 278.13,59.78 278.93,59.77 279.73,59.76 280.53,59.75 281.33,59.74 282.13,59.73 282.93,59.72 283.73,59.72 284.53,59.71 285.33,59.71 286.13,59.70 286.93,59.70 287.73,59.70 288.53,59.69 289.33,59.69 290.13,59.69 290.93,59.69 291.72,59.69 292.52,59.69 293.32,59.69 294.12,59.69 294.92,59.69 295.72,59.69 296.52,59.68 297.32,59.68 298.12,59.68 298.92,59.68 299.72,59.68 300.52,59.68 301.32,59.68 302.12,59.68 302.92,59.68 303.72,59.68 304.52,59.68 305.32,59.68 306.12,59.68 306.92,59.68 307.72,59.68" fill="none" stroke="#b5123f" stroke-width="1.15"/>
<circle cx="231.40" cy="92.10" r="1.95" fill="#b5123f"/>
<circle cx="239.03" cy="89.92" r="1.95" fill="#b5123f"/>
<circle cx="246.66" cy="81.17" r="1.95" fill="#b5123f"/>
<circle cx="254.29" cy="68.06" r="1.95" fill="#b5123f"/>
<circle cx="261.92" cy="62.23" r="1.95" fill="#b5123f"/>
<circle cx="269.55" cy="58.88" r="1.95" fill="#b5123f"/>
<circle cx="277.18" cy="59.03" r="1.95" fill="#b5123f"/>
<circle cx="284.81" cy="59.32" r="1.95" fill="#b5123f"/>
<circle cx="292.44" cy="59.68" r="1.95" fill="#b5123f"/>
<circle cx="300.07" cy="59.76" r="1.95" fill="#b5123f"/>
<circle cx="307.70" cy="62.23" r="1.95" fill="#b5123f"/>
<text x="179.60" y="60.00" font-size="10" text-anchor="middle" textLength="51.8" lengthAdjust="spacingAndGlyphs" transform="rotate(-90 179.60 60.00)" >T cell activation</text>
<text x="190.90" y="58.80" font-size="10.2" text-anchor="middle" textLength="72.8" lengthAdjust="spacingAndGlyphs" transform="rotate(-90 190.90 58.80)" >% CD25<tspan font-size="7.6" dy="-2.6">+</tspan><tspan dy="2.6"> (live T cells)</tspan></text>
<text x="265.40" y="133.50" font-size="9.2" text-anchor="middle" textLength="70.0" lengthAdjust="spacingAndGlyphs" >JNJ-64407564 (nM)</text>
<text x="317.60" y="26.90" font-size="9" textLength="35.2" lengthAdjust="spacingAndGlyphs" >Donor ID:</text>
<line x1="317.20" y1="35.90" x2="328.40" y2="35.90" stroke="#b5123f" stroke-width="1.0" />
<circle cx="322.80" cy="35.90" r="1.95" fill="#b5123f"/>
<text x="331.40" y="39.10" font-size="9" textLength="21.9" lengthAdjust="spacingAndGlyphs" >10269</text>
<line x1="317.20" y1="47.62" x2="328.40" y2="47.62" stroke="#24478f" stroke-width="1.0" />
<path d="M322.80,45.72 L324.61,48.76 L321.00,48.76Z" fill="#24478f"/>
<text x="331.40" y="50.82" font-size="9" textLength="21.9" lengthAdjust="spacingAndGlyphs" >10418</text>
<line x1="317.20" y1="59.34" x2="328.40" y2="59.34" stroke="#58a843" stroke-width="1.0" />
<rect x="321.05" y="57.59" width="3.50" height="3.50" fill="#58a843"/>
<text x="331.40" y="62.54" font-size="9" textLength="21.9" lengthAdjust="spacingAndGlyphs" >10413</text>
<line x1="317.20" y1="71.06" x2="328.40" y2="71.06" stroke="#562a8a" stroke-width="1.0" />
<rect x="321.05" y="69.31" width="3.50" height="3.50" fill="none" stroke="#562a8a" stroke-width="0.9"/>
<text x="331.40" y="74.26" font-size="9" textLength="21.9" lengthAdjust="spacingAndGlyphs" >10007</text>
<line x1="317.20" y1="82.78" x2="328.40" y2="82.78" stroke="#ec981c" stroke-width="1.0" />
<path d="M322.80,80.08 L325.37,84.40 L320.24,84.40Z" fill="none" stroke="#ec981c" stroke-width="1.0"/>
<text x="331.40" y="85.98" font-size="9" textLength="21.9" lengthAdjust="spacingAndGlyphs" >10207</text>
<line x1="317.20" y1="94.50" x2="328.40" y2="94.50" stroke="#8a80cf" stroke-width="1.0" />
<path d="M321.30,94.50H324.30M322.80,93.00V96.00" stroke="#8a80cf" stroke-width="0.8"/>
<text x="331.40" y="97.70" font-size="9" textLength="21.9" lengthAdjust="spacingAndGlyphs" >10030</text>
<text x="381.00" y="16.60" font-size="11.2" font-weight="bold" textLength="8.4" lengthAdjust="spacingAndGlyphs" fill="#000" >C</text>
<line x1="413.30" y1="24.10" x2="413.30" y2="97.90" stroke="#151515" stroke-width="1.4" />
<line x1="412.70" y1="97.60" x2="511.30" y2="97.60" stroke="#151515" stroke-width="1.4" />
<line x1="410.30" y1="90.80" x2="413.30" y2="90.80" stroke="#151515" stroke-width="1.0" />
<text x="407.60" y="93.50" font-size="9.0" text-anchor="end" textLength="4.5" lengthAdjust="spacingAndGlyphs" >0</text>
<line x1="410.30" y1="78.55" x2="413.30" y2="78.55" stroke="#151515" stroke-width="1.0" />
<text x="407.60" y="81.25" font-size="9.0" text-anchor="end" textLength="9.01" lengthAdjust="spacingAndGlyphs" >20</text>
<line x1="410.30" y1="66.30" x2="413.30" y2="66.30" stroke="#151515" stroke-width="1.0" />
<text x="407.60" y="69.00" font-size="9.0" text-anchor="end" textLength="9.01" lengthAdjust="spacingAndGlyphs" >40</text>
<line x1="410.30" y1="54.05" x2="413.30" y2="54.05" stroke="#151515" stroke-width="1.0" />
<text x="407.60" y="56.75" font-size="9.0" text-anchor="end" textLength="9.01" lengthAdjust="spacingAndGlyphs" >60</text>
<line x1="410.30" y1="41.80" x2="413.30" y2="41.80" stroke="#151515" stroke-width="1.0" />
<text x="407.60" y="44.50" font-size="9.0" text-anchor="end" textLength="9.01" lengthAdjust="spacingAndGlyphs" >80</text>
<line x1="410.30" y1="29.55" x2="413.30" y2="29.55" stroke="#151515" stroke-width="1.0" />
<text x="407.60" y="32.25" font-size="9.0" text-anchor="end" textLength="13.51" lengthAdjust="spacingAndGlyphs" >100</text>
<line x1="411.70" y1="84.67" x2="413.30" y2="84.67" stroke="#151515" stroke-width="0.8" />
<line x1="411.70" y1="72.42" x2="413.30" y2="72.42" stroke="#151515" stroke-width="0.8" />
<line x1="411.70" y1="60.17" x2="413.30" y2="60.17" stroke="#151515" stroke-width="0.8" />
<line x1="411.70" y1="47.92" x2="413.30" y2="47.92" stroke="#151515" stroke-width="0.8" />
<line x1="411.70" y1="35.67" x2="413.30" y2="35.67" stroke="#151515" stroke-width="0.8" />
<line x1="413.30" y1="97.30" x2="413.30" y2="100.30" stroke="#151515" stroke-width="1.0" />
<line x1="417.39" y1="97.30" x2="417.39" y2="98.90" stroke="#151515" stroke-width="0.7" />
<line x1="419.78" y1="97.30" x2="419.78" y2="98.90" stroke="#151515" stroke-width="0.7" />
<line x1="421.48" y1="97.30" x2="421.48" y2="98.90" stroke="#151515" stroke-width="0.7" />
<line x1="422.80" y1="97.30" x2="422.80" y2="98.90" stroke="#151515" stroke-width="0.7" />
<line x1="423.88" y1="97.30" x2="423.88" y2="98.90" stroke="#151515" stroke-width="0.7" />
<line x1="424.78" y1="97.30" x2="424.78" y2="98.90" stroke="#151515" stroke-width="0.7" />
<line x1="425.57" y1="97.30" x2="425.57" y2="98.90" stroke="#151515" stroke-width="0.7" />
<line x1="426.27" y1="97.30" x2="426.27" y2="98.90" stroke="#151515" stroke-width="0.7" />
<text x="416.65" y="107.10" font-size="9.0" text-anchor="end" textLength="23.67" lengthAdjust="spacingAndGlyphs" transform="rotate(-45 416.65 107.10)" >0.0001</text>
<line x1="426.89" y1="97.30" x2="426.89" y2="100.30" stroke="#151515" stroke-width="1.0" />
<line x1="430.98" y1="97.30" x2="430.98" y2="98.90" stroke="#151515" stroke-width="0.7" />
<line x1="433.37" y1="97.30" x2="433.37" y2="98.90" stroke="#151515" stroke-width="0.7" />
<line x1="435.07" y1="97.30" x2="435.07" y2="98.90" stroke="#151515" stroke-width="0.7" />
<line x1="436.39" y1="97.30" x2="436.39" y2="98.90" stroke="#151515" stroke-width="0.7" />
<line x1="437.47" y1="97.30" x2="437.47" y2="98.90" stroke="#151515" stroke-width="0.7" />
<line x1="438.37" y1="97.30" x2="438.37" y2="98.90" stroke="#151515" stroke-width="0.7" />
<line x1="439.16" y1="97.30" x2="439.16" y2="98.90" stroke="#151515" stroke-width="0.7" />
<line x1="439.86" y1="97.30" x2="439.86" y2="98.90" stroke="#151515" stroke-width="0.7" />
<text x="430.24" y="107.10" font-size="9.0" text-anchor="end" textLength="4.3" lengthAdjust="spacingAndGlyphs" transform="rotate(-45 430.24 107.10)" >0</text>
<line x1="440.48" y1="97.30" x2="440.48" y2="100.30" stroke="#151515" stroke-width="1.0" />
<line x1="444.57" y1="97.30" x2="444.57" y2="98.90" stroke="#151515" stroke-width="0.7" />
<line x1="446.96" y1="97.30" x2="446.96" y2="98.90" stroke="#151515" stroke-width="0.7" />
<line x1="448.66" y1="97.30" x2="448.66" y2="98.90" stroke="#151515" stroke-width="0.7" />
<line x1="449.98" y1="97.30" x2="449.98" y2="98.90" stroke="#151515" stroke-width="0.7" />
<line x1="451.06" y1="97.30" x2="451.06" y2="98.90" stroke="#151515" stroke-width="0.7" />
<line x1="451.96" y1="97.30" x2="451.96" y2="98.90" stroke="#151515" stroke-width="0.7" />
<line x1="452.75" y1="97.30" x2="452.75" y2="98.90" stroke="#151515" stroke-width="0.7" />
<line x1="453.45" y1="97.30" x2="453.45" y2="98.90" stroke="#151515" stroke-width="0.7" />
<text x="443.83" y="107.10" font-size="9.0" text-anchor="end" textLength="15.06" lengthAdjust="spacingAndGlyphs" transform="rotate(-45 443.83 107.10)" >0.01</text>
<line x1="454.07" y1="97.30" x2="454.07" y2="100.30" stroke="#151515" stroke-width="1.0" />
<line x1="458.16" y1="97.30" x2="458.16" y2="98.90" stroke="#151515" stroke-width="0.7" />
<line x1="460.55" y1="97.30" x2="460.55" y2="98.90" stroke="#151515" stroke-width="0.7" />
<line x1="462.25" y1="97.30" x2="462.25" y2="98.90" stroke="#151515" stroke-width="0.7" />
<line x1="463.57" y1="97.30" x2="463.57" y2="98.90" stroke="#151515" stroke-width="0.7" />
<line x1="464.65" y1="97.30" x2="464.65" y2="98.90" stroke="#151515" stroke-width="0.7" />
<line x1="465.55" y1="97.30" x2="465.55" y2="98.90" stroke="#151515" stroke-width="0.7" />
<line x1="466.34" y1="97.30" x2="466.34" y2="98.90" stroke="#151515" stroke-width="0.7" />
<line x1="467.04" y1="97.30" x2="467.04" y2="98.90" stroke="#151515" stroke-width="0.7" />
<text x="457.42" y="107.10" font-size="9.0" text-anchor="end" textLength="10.76" lengthAdjust="spacingAndGlyphs" transform="rotate(-45 457.42 107.10)" >0.1</text>
<line x1="467.66" y1="97.30" x2="467.66" y2="100.30" stroke="#151515" stroke-width="1.0" />
<line x1="471.75" y1="97.30" x2="471.75" y2="98.90" stroke="#151515" stroke-width="0.7" />
<line x1="474.14" y1="97.30" x2="474.14" y2="98.90" stroke="#151515" stroke-width="0.7" />
<line x1="475.84" y1="97.30" x2="475.84" y2="98.90" stroke="#151515" stroke-width="0.7" />
<line x1="477.16" y1="97.30" x2="477.16" y2="98.90" stroke="#151515" stroke-width="0.7" />
<line x1="478.24" y1="97.30" x2="478.24" y2="98.90" stroke="#151515" stroke-width="0.7" />
<line x1="479.14" y1="97.30" x2="479.14" y2="98.90" stroke="#151515" stroke-width="0.7" />
<line x1="479.93" y1="97.30" x2="479.93" y2="98.90" stroke="#151515" stroke-width="0.7" />
<line x1="480.63" y1="97.30" x2="480.63" y2="98.90" stroke="#151515" stroke-width="0.7" />
<text x="471.01" y="107.10" font-size="9.0" text-anchor="end" textLength="4.3" lengthAdjust="spacingAndGlyphs" transform="rotate(-45 471.01 107.10)" >1</text>
<line x1="481.25" y1="97.30" x2="481.25" y2="100.30" stroke="#151515" stroke-width="1.0" />
<line x1="485.34" y1="97.30" x2="485.34" y2="98.90" stroke="#151515" stroke-width="0.7" />
<line x1="487.73" y1="97.30" x2="487.73" y2="98.90" stroke="#151515" stroke-width="0.7" />
<line x1="489.43" y1="97.30" x2="489.43" y2="98.90" stroke="#151515" stroke-width="0.7" />
<line x1="490.75" y1="97.30" x2="490.75" y2="98.90" stroke="#151515" stroke-width="0.7" />
<line x1="491.83" y1="97.30" x2="491.83" y2="98.90" stroke="#151515" stroke-width="0.7" />
<line x1="492.73" y1="97.30" x2="492.73" y2="98.90" stroke="#151515" stroke-width="0.7" />
<line x1="493.52" y1="97.30" x2="493.52" y2="98.90" stroke="#151515" stroke-width="0.7" />
<line x1="494.22" y1="97.30" x2="494.22" y2="98.90" stroke="#151515" stroke-width="0.7" />
<text x="484.60" y="107.10" font-size="9.0" text-anchor="end" textLength="8.61" lengthAdjust="spacingAndGlyphs" transform="rotate(-45 484.60 107.10)" >10</text>
<line x1="494.84" y1="97.30" x2="494.84" y2="100.30" stroke="#151515" stroke-width="1.0" />
<line x1="498.93" y1="97.30" x2="498.93" y2="98.90" stroke="#151515" stroke-width="0.7" />
<line x1="501.32" y1="97.30" x2="501.32" y2="98.90" stroke="#151515" stroke-width="0.7" />
<line x1="503.02" y1="97.30" x2="503.02" y2="98.90" stroke="#151515" stroke-width="0.7" />
<line x1="504.34" y1="97.30" x2="504.34" y2="98.90" stroke="#151515" stroke-width="0.7" />
<line x1="505.42" y1="97.30" x2="505.42" y2="98.90" stroke="#151515" stroke-width="0.7" />
<line x1="506.32" y1="97.30" x2="506.32" y2="98.90" stroke="#151515" stroke-width="0.7" />
<line x1="507.11" y1="97.30" x2="507.11" y2="98.90" stroke="#151515" stroke-width="0.7" />
<line x1="507.81" y1="97.30" x2="507.81" y2="98.90" stroke="#151515" stroke-width="0.7" />
<text x="498.19" y="107.10" font-size="9.0" text-anchor="end" textLength="12.91" lengthAdjust="spacingAndGlyphs" transform="rotate(-45 498.19 107.10)" >100</text>
<line x1="508.43" y1="97.30" x2="508.43" y2="100.30" stroke="#151515" stroke-width="1.0" />
<text x="511.78" y="107.10" font-size="9.0" text-anchor="end" textLength="17.22" lengthAdjust="spacingAndGlyphs" transform="rotate(-45 511.78 107.10)" >1000</text>
<line x1="413.30" y1="90.40" x2="504.50" y2="90.40" stroke="#3a5ca2" stroke-width="1.3" />
<rect x="411.46" y="88.66" width="3.68" height="3.68" fill="#b5123f"/>
<rect x="421.96" y="88.66" width="3.68" height="3.68" fill="#b5123f"/>
<rect x="429.16" y="88.66" width="3.68" height="3.68" fill="#b5123f"/>
<rect x="437.36" y="88.66" width="3.68" height="3.68" fill="#b5123f"/>
<rect x="445.56" y="88.66" width="3.68" height="3.68" fill="#b5123f"/>
<rect x="453.76" y="88.66" width="3.68" height="3.68" fill="#b5123f"/>
<rect x="461.96" y="88.66" width="3.68" height="3.68" fill="#b5123f"/>
<rect x="470.16" y="88.66" width="3.68" height="3.68" fill="#b5123f"/>
<rect x="478.36" y="89.36" width="3.68" height="3.68" fill="#b5123f"/>
<rect x="486.46" y="89.36" width="3.68" height="3.68" fill="#b5123f"/>
<rect x="494.56" y="89.36" width="3.68" height="3.68" fill="#b5123f"/>
<rect x="502.66" y="89.36" width="3.68" height="3.68" fill="#b5123f"/>
<circle cx="480.20" cy="89.00" r="1.66" fill="#ec981c"/>
<circle cx="488.30" cy="88.20" r="1.66" fill="#ec981c"/>
<path d="M413.30,88.03 L415.74,92.14 L410.86,92.14Z" fill="#1f3f8f"/>
<path d="M423.80,88.03 L426.24,92.14 L421.36,92.14Z" fill="#1f3f8f"/>
<path d="M431.00,88.03 L433.44,92.14 L428.56,92.14Z" fill="#1f3f8f"/>
<path d="M439.20,88.03 L441.64,92.14 L436.76,92.14Z" fill="#1f3f8f"/>
<path d="M447.40,88.03 L449.84,92.14 L444.96,92.14Z" fill="#1f3f8f"/>
<path d="M455.60,88.03 L458.04,92.14 L453.16,92.14Z" fill="#1f3f8f"/>
<path d="M463.80,88.03 L466.24,92.14 L461.36,92.14Z" fill="#1f3f8f"/>
<path d="M472.00,88.03 L474.44,92.14 L469.56,92.14Z" fill="#1f3f8f"/>
<path d="M480.20,87.64 L482.64,91.74 L477.76,91.74Z" fill="#1f3f8f"/>
<path d="M488.30,87.44 L490.74,91.54 L485.86,91.54Z" fill="#1f3f8f"/>
<path d="M496.40,86.44 L498.84,90.54 L493.96,90.54Z" fill="#1f3f8f"/>
<path d="M504.50,87.03 L506.94,91.14 L502.06,91.14Z" fill="#1f3f8f"/>
<text x="378.00" y="60.60" font-size="10" text-anchor="middle" textLength="51.8" lengthAdjust="spacingAndGlyphs" transform="rotate(-90 378.00 60.60)" >T cell activation</text>
<text x="388.40" y="60.60" font-size="10.2" text-anchor="middle" textLength="72.4" lengthAdjust="spacingAndGlyphs" transform="rotate(-90 388.40 60.60)" >% CD25<tspan font-size="7.6" dy="-2.6">+</tspan><tspan dy="2.6"> (live T cells)</tspan></text>
<text x="462.20" y="131.40" font-size="10.6" text-anchor="middle" textLength="62.6" lengthAdjust="spacingAndGlyphs" >DuoBody antibody</text>
<text x="462.90" y="142.30" font-size="10.6" text-anchor="middle" textLength="65.0" lengthAdjust="spacingAndGlyphs" >concentration (nM)</text>
<line x1="419.00" y1="31.30" x2="427.80" y2="31.30" stroke="#ec981c" stroke-width="1.0" />
<circle cx="423.40" cy="31.30" r="1.95" fill="#ec981c"/>
<text x="431.00" y="34.50" font-size="9" textLength="52.4" lengthAdjust="spacingAndGlyphs" >JNJ-64407564</text>
<line x1="419.00" y1="42.80" x2="427.80" y2="42.80" stroke="#b5123f" stroke-width="1.0" />
<rect x="421.65" y="41.05" width="3.50" height="3.50" fill="#b5123f"/>
<text x="431.00" y="46.00" font-size="9" textLength="51.0" lengthAdjust="spacingAndGlyphs" >GPRC5DxNull</text>
<line x1="419.00" y1="54.30" x2="427.80" y2="54.30" stroke="#24478f" stroke-width="1.0" />
<path d="M423.40,52.40 L425.20,55.44 L421.59,55.44Z" fill="#24478f"/>
<text x="431.00" y="57.50" font-size="9" textLength="34.9" lengthAdjust="spacingAndGlyphs" >NullxCD3</text>
<text x="7.00" y="175.60" font-size="11.2" font-weight="bold" textLength="8.8" lengthAdjust="spacingAndGlyphs" fill="#000" >D</text>
<line x1="48.90" y1="192.50" x2="48.90" y2="287.00" stroke="#151515" stroke-width="1.4" />
<line x1="45.90" y1="286.40" x2="48.90" y2="286.40" stroke="#151515" stroke-width="1.0" />
<line x1="47.30" y1="281.55" x2="48.90" y2="281.55" stroke="#151515" stroke-width="0.7" />
<line x1="47.30" y1="276.70" x2="48.90" y2="276.70" stroke="#151515" stroke-width="0.7" />
<line x1="47.30" y1="271.85" x2="48.90" y2="271.85" stroke="#151515" stroke-width="0.7" />
<line x1="45.90" y1="267.00" x2="48.90" y2="267.00" stroke="#151515" stroke-width="1.0" />
<line x1="47.30" y1="262.15" x2="48.90" y2="262.15" stroke="#151515" stroke-width="0.7" />
<line x1="47.30" y1="257.30" x2="48.90" y2="257.30" stroke="#151515" stroke-width="0.7" />
<line x1="47.30" y1="252.45" x2="48.90" y2="252.45" stroke="#151515" stroke-width="0.7" />
<line x1="45.90" y1="247.60" x2="48.90" y2="247.60" stroke="#151515" stroke-width="1.0" />
<line x1="47.30" y1="242.75" x2="48.90" y2="242.75" stroke="#151515" stroke-width="0.7" />
<line x1="47.30" y1="237.90" x2="48.90" y2="237.90" stroke="#151515" stroke-width="0.7" />
<line x1="47.30" y1="233.05" x2="48.90" y2="233.05" stroke="#151515" stroke-width="0.7" />
<line x1="45.90" y1="228.20" x2="48.90" y2="228.20" stroke="#151515" stroke-width="1.0" />
<line x1="47.30" y1="223.35" x2="48.90" y2="223.35" stroke="#151515" stroke-width="0.7" />
<line x1="47.30" y1="218.50" x2="48.90" y2="218.50" stroke="#151515" stroke-width="0.7" />
<line x1="47.30" y1="213.65" x2="48.90" y2="213.65" stroke="#151515" stroke-width="0.7" />
<line x1="45.90" y1="208.80" x2="48.90" y2="208.80" stroke="#151515" stroke-width="1.0" />
<line x1="47.30" y1="203.95" x2="48.90" y2="203.95" stroke="#151515" stroke-width="0.7" />
<line x1="47.30" y1="199.10" x2="48.90" y2="199.10" stroke="#151515" stroke-width="0.7" />
<line x1="47.30" y1="194.25" x2="48.90" y2="194.25" stroke="#151515" stroke-width="0.7" />
<line x1="48.30" y1="286.80" x2="144.70" y2="286.80" stroke="#151515" stroke-width="1.4" />
<line x1="48.90" y1="286.40" x2="48.90" y2="289.40" stroke="#151515" stroke-width="1.0" />
<line x1="55.10" y1="286.40" x2="55.10" y2="289.40" stroke="#151515" stroke-width="1.0" />
<line x1="72.30" y1="286.40" x2="72.30" y2="289.40" stroke="#151515" stroke-width="1.0" />
<line x1="86.20" y1="286.40" x2="86.20" y2="289.40" stroke="#151515" stroke-width="1.0" />
<line x1="110.60" y1="286.40" x2="110.60" y2="289.40" stroke="#151515" stroke-width="1.0" />
<line x1="134.50" y1="286.40" x2="134.50" y2="289.40" stroke="#151515" stroke-width="1.0" />
<line x1="58.54" y1="286.40" x2="58.54" y2="288.00" stroke="#151515" stroke-width="0.6" />
<line x1="61.98" y1="286.40" x2="61.98" y2="288.00" stroke="#151515" stroke-width="0.6" />
<line x1="65.42" y1="286.40" x2="65.42" y2="288.00" stroke="#151515" stroke-width="0.6" />
<line x1="68.00" y1="286.40" x2="68.00" y2="288.00" stroke="#151515" stroke-width="0.6" />
<line x1="70.24" y1="286.40" x2="70.24" y2="288.00" stroke="#151515" stroke-width="0.6" />
<line x1="73.97" y1="286.40" x2="73.97" y2="288.00" stroke="#151515" stroke-width="0.6" />
<line x1="75.78" y1="286.40" x2="75.78" y2="288.00" stroke="#151515" stroke-width="0.6" />
<line x1="77.86" y1="286.40" x2="77.86" y2="288.00" stroke="#151515" stroke-width="0.6" />
<line x1="80.64" y1="286.40" x2="80.64" y2="288.00" stroke="#151515" stroke-width="0.6" />
<line x1="83.42" y1="286.40" x2="83.42" y2="288.00" stroke="#151515" stroke-width="0.6" />
<line x1="93.47" y1="286.40" x2="93.47" y2="288.00" stroke="#151515" stroke-width="0.6" />
<line x1="97.72" y1="286.40" x2="97.72" y2="288.00" stroke="#151515" stroke-width="0.6" />
<line x1="100.74" y1="286.40" x2="100.74" y2="288.00" stroke="#151515" stroke-width="0.6" />
<line x1="103.08" y1="286.40" x2="103.08" y2="288.00" stroke="#151515" stroke-width="0.6" />
<line x1="104.99" y1="286.40" x2="104.99" y2="288.00" stroke="#151515" stroke-width="0.6" />
<line x1="106.61" y1="286.40" x2="106.61" y2="288.00" stroke="#151515" stroke-width="0.6" />
<line x1="108.01" y1="286.40" x2="108.01" y2="288.00" stroke="#151515" stroke-width="0.6" />
<line x1="109.24" y1="286.40" x2="109.24" y2="288.00" stroke="#151515" stroke-width="0.6" />
<line x1="117.87" y1="286.40" x2="117.87" y2="288.00" stroke="#151515" stroke-width="0.6" />
<line x1="122.12" y1="286.40" x2="122.12" y2="288.00" stroke="#151515" stroke-width="0.6" />
<line x1="125.14" y1="286.40" x2="125.14" y2="288.00" stroke="#151515" stroke-width="0.6" />
<line x1="127.48" y1="286.40" x2="127.48" y2="288.00" stroke="#151515" stroke-width="0.6" />
<line x1="129.39" y1="286.40" x2="129.39" y2="288.00" stroke="#151515" stroke-width="0.6" />
<line x1="131.01" y1="286.40" x2="131.01" y2="288.00" stroke="#151515" stroke-width="0.6" />
<line x1="132.41" y1="286.40" x2="132.41" y2="288.00" stroke="#151515" stroke-width="0.6" />
<line x1="133.64" y1="286.40" x2="133.64" y2="288.00" stroke="#151515" stroke-width="0.6" />
<line x1="141.77" y1="286.40" x2="141.77" y2="288.00" stroke="#151515" stroke-width="0.6" />
<text x="55.10" y="299.60" font-size="9.0" text-anchor="middle" textLength="16.0" lengthAdjust="spacingAndGlyphs" >-10<tspan font-size="6.8" dy="-3.5">3</tspan></text>
<text x="72.30" y="299.60" font-size="9.0" text-anchor="middle" >0</text>
<text x="86.20" y="299.60" font-size="9.0" text-anchor="middle" textLength="13.2" lengthAdjust="spacingAndGlyphs" >10<tspan font-size="6.8" dy="-3.5">3</tspan></text>
<text x="110.60" y="299.60" font-size="9.0" text-anchor="middle" textLength="13.2" lengthAdjust="spacingAndGlyphs" >10<tspan font-size="6.8" dy="-3.5">4</tspan></text>
<text x="134.50" y="299.60" font-size="9.0" text-anchor="middle" textLength="13.2" lengthAdjust="spacingAndGlyphs" >10<tspan font-size="6.8" dy="-3.5">5</tspan></text>
<line x1="158.40" y1="192.50" x2="158.40" y2="287.00" stroke="#151515" stroke-width="1.4" />
<line x1="155.40" y1="286.40" x2="158.40" y2="286.40" stroke="#151515" stroke-width="1.0" />
<line x1="156.80" y1="281.55" x2="158.40" y2="281.55" stroke="#151515" stroke-width="0.7" />
<line x1="156.80" y1="276.70" x2="158.40" y2="276.70" stroke="#151515" stroke-width="0.7" />
<line x1="156.80" y1="271.85" x2="158.40" y2="271.85" stroke="#151515" stroke-width="0.7" />
<line x1="155.40" y1="267.00" x2="158.40" y2="267.00" stroke="#151515" stroke-width="1.0" />
<line x1="156.80" y1="262.15" x2="158.40" y2="262.15" stroke="#151515" stroke-width="0.7" />
<line x1="156.80" y1="257.30" x2="158.40" y2="257.30" stroke="#151515" stroke-width="0.7" />
<line x1="156.80" y1="252.45" x2="158.40" y2="252.45" stroke="#151515" stroke-width="0.7" />
<line x1="155.40" y1="247.60" x2="158.40" y2="247.60" stroke="#151515" stroke-width="1.0" />
<line x1="156.80" y1="242.75" x2="158.40" y2="242.75" stroke="#151515" stroke-width="0.7" />
<line x1="156.80" y1="237.90" x2="158.40" y2="237.90" stroke="#151515" stroke-width="0.7" />
<line x1="156.80" y1="233.05" x2="158.40" y2="233.05" stroke="#151515" stroke-width="0.7" />
<line x1="155.40" y1="228.20" x2="158.40" y2="228.20" stroke="#151515" stroke-width="1.0" />
<line x1="156.80" y1="223.35" x2="158.40" y2="223.35" stroke="#151515" stroke-width="0.7" />
<line x1="156.80" y1="218.50" x2="158.40" y2="218.50" stroke="#151515" stroke-width="0.7" />
<line x1="156.80" y1="213.65" x2="158.40" y2="213.65" stroke="#151515" stroke-width="0.7" />
<line x1="155.40" y1="208.80" x2="158.40" y2="208.80" stroke="#151515" stroke-width="1.0" />
<line x1="156.80" y1="203.95" x2="158.40" y2="203.95" stroke="#151515" stroke-width="0.7" />
<line x1="156.80" y1="199.10" x2="158.40" y2="199.10" stroke="#151515" stroke-width="0.7" />
<line x1="156.80" y1="194.25" x2="158.40" y2="194.25" stroke="#151515" stroke-width="0.7" />
<line x1="157.80" y1="286.80" x2="254.20" y2="286.80" stroke="#151515" stroke-width="1.4" />
<line x1="158.40" y1="286.40" x2="158.40" y2="289.40" stroke="#151515" stroke-width="1.0" />
<line x1="164.80" y1="286.40" x2="164.80" y2="289.40" stroke="#151515" stroke-width="1.0" />
<line x1="180.30" y1="286.40" x2="180.30" y2="289.40" stroke="#151515" stroke-width="1.0" />
<line x1="196.00" y1="286.40" x2="196.00" y2="289.40" stroke="#151515" stroke-width="1.0" />
<line x1="220.10" y1="286.40" x2="220.10" y2="289.40" stroke="#151515" stroke-width="1.0" />
<line x1="243.70" y1="286.40" x2="243.70" y2="289.40" stroke="#151515" stroke-width="1.0" />
<line x1="167.90" y1="286.40" x2="167.90" y2="288.00" stroke="#151515" stroke-width="0.6" />
<line x1="171.00" y1="286.40" x2="171.00" y2="288.00" stroke="#151515" stroke-width="0.6" />
<line x1="174.10" y1="286.40" x2="174.10" y2="288.00" stroke="#151515" stroke-width="0.6" />
<line x1="176.43" y1="286.40" x2="176.43" y2="288.00" stroke="#151515" stroke-width="0.6" />
<line x1="178.44" y1="286.40" x2="178.44" y2="288.00" stroke="#151515" stroke-width="0.6" />
<line x1="182.18" y1="286.40" x2="182.18" y2="288.00" stroke="#151515" stroke-width="0.6" />
<line x1="184.22" y1="286.40" x2="184.22" y2="288.00" stroke="#151515" stroke-width="0.6" />
<line x1="186.58" y1="286.40" x2="186.58" y2="288.00" stroke="#151515" stroke-width="0.6" />
<line x1="189.72" y1="286.40" x2="189.72" y2="288.00" stroke="#151515" stroke-width="0.6" />
<line x1="192.86" y1="286.40" x2="192.86" y2="288.00" stroke="#151515" stroke-width="0.6" />
<line x1="203.18" y1="286.40" x2="203.18" y2="288.00" stroke="#151515" stroke-width="0.6" />
<line x1="207.38" y1="286.40" x2="207.38" y2="288.00" stroke="#151515" stroke-width="0.6" />
<line x1="210.36" y1="286.40" x2="210.36" y2="288.00" stroke="#151515" stroke-width="0.6" />
<line x1="212.67" y1="286.40" x2="212.67" y2="288.00" stroke="#151515" stroke-width="0.6" />
<line x1="214.56" y1="286.40" x2="214.56" y2="288.00" stroke="#151515" stroke-width="0.6" />
<line x1="216.16" y1="286.40" x2="216.16" y2="288.00" stroke="#151515" stroke-width="0.6" />
<line x1="217.54" y1="286.40" x2="217.54" y2="288.00" stroke="#151515" stroke-width="0.6" />
<line x1="218.76" y1="286.40" x2="218.76" y2="288.00" stroke="#151515" stroke-width="0.6" />
<line x1="227.28" y1="286.40" x2="227.28" y2="288.00" stroke="#151515" stroke-width="0.6" />
<line x1="231.48" y1="286.40" x2="231.48" y2="288.00" stroke="#151515" stroke-width="0.6" />
<line x1="234.46" y1="286.40" x2="234.46" y2="288.00" stroke="#151515" stroke-width="0.6" />
<line x1="236.77" y1="286.40" x2="236.77" y2="288.00" stroke="#151515" stroke-width="0.6" />
<line x1="238.66" y1="286.40" x2="238.66" y2="288.00" stroke="#151515" stroke-width="0.6" />
<line x1="240.26" y1="286.40" x2="240.26" y2="288.00" stroke="#151515" stroke-width="0.6" />
<line x1="241.64" y1="286.40" x2="241.64" y2="288.00" stroke="#151515" stroke-width="0.6" />
<line x1="242.86" y1="286.40" x2="242.86" y2="288.00" stroke="#151515" stroke-width="0.6" />
<line x1="250.88" y1="286.40" x2="250.88" y2="288.00" stroke="#151515" stroke-width="0.6" />
<text x="164.80" y="299.60" font-size="9.0" text-anchor="middle" textLength="16.0" lengthAdjust="spacingAndGlyphs" >-10<tspan font-size="6.8" dy="-3.5">3</tspan></text>
<text x="180.30" y="299.60" font-size="9.0" text-anchor="middle" >0</text>
<text x="196.00" y="299.60" font-size="9.0" text-anchor="middle" textLength="13.2" lengthAdjust="spacingAndGlyphs" >10<tspan font-size="6.8" dy="-3.5">3</tspan></text>
<text x="220.10" y="299.60" font-size="9.0" text-anchor="middle" textLength="13.2" lengthAdjust="spacingAndGlyphs" >10<tspan font-size="6.8" dy="-3.5">4</tspan></text>
<text x="243.70" y="299.60" font-size="9.0" text-anchor="middle" textLength="13.2" lengthAdjust="spacingAndGlyphs" >10<tspan font-size="6.8" dy="-3.5">5</tspan></text>
<line x1="270.00" y1="192.50" x2="270.00" y2="287.00" stroke="#151515" stroke-width="1.4" />
<line x1="267.00" y1="286.40" x2="270.00" y2="286.40" stroke="#151515" stroke-width="1.0" />
<line x1="268.40" y1="281.55" x2="270.00" y2="281.55" stroke="#151515" stroke-width="0.7" />
<line x1="268.40" y1="276.70" x2="270.00" y2="276.70" stroke="#151515" stroke-width="0.7" />
<line x1="268.40" y1="271.85" x2="270.00" y2="271.85" stroke="#151515" stroke-width="0.7" />
<line x1="267.00" y1="267.00" x2="270.00" y2="267.00" stroke="#151515" stroke-width="1.0" />
<line x1="268.40" y1="262.15" x2="270.00" y2="262.15" stroke="#151515" stroke-width="0.7" />
<line x1="268.40" y1="257.30" x2="270.00" y2="257.30" stroke="#151515" stroke-width="0.7" />
<line x1="268.40" y1="252.45" x2="270.00" y2="252.45" stroke="#151515" stroke-width="0.7" />
<line x1="267.00" y1="247.60" x2="270.00" y2="247.60" stroke="#151515" stroke-width="1.0" />
<line x1="268.40" y1="242.75" x2="270.00" y2="242.75" stroke="#151515" stroke-width="0.7" />
<line x1="268.40" y1="237.90" x2="270.00" y2="237.90" stroke="#151515" stroke-width="0.7" />
<line x1="268.40" y1="233.05" x2="270.00" y2="233.05" stroke="#151515" stroke-width="0.7" />
<line x1="267.00" y1="228.20" x2="270.00" y2="228.20" stroke="#151515" stroke-width="1.0" />
<line x1="268.40" y1="223.35" x2="270.00" y2="223.35" stroke="#151515" stroke-width="0.7" />
<line x1="268.40" y1="218.50" x2="270.00" y2="218.50" stroke="#151515" stroke-width="0.7" />
<line x1="268.40" y1="213.65" x2="270.00" y2="213.65" stroke="#151515" stroke-width="0.7" />
<line x1="267.00" y1="208.80" x2="270.00" y2="208.80" stroke="#151515" stroke-width="1.0" />
<line x1="268.40" y1="203.95" x2="270.00" y2="203.95" stroke="#151515" stroke-width="0.7" />
<line x1="268.40" y1="199.10" x2="270.00" y2="199.10" stroke="#151515" stroke-width="0.7" />
<line x1="268.40" y1="194.25" x2="270.00" y2="194.25" stroke="#151515" stroke-width="0.7" />
<line x1="269.40" y1="286.80" x2="365.80" y2="286.80" stroke="#151515" stroke-width="1.4" />
<line x1="270.00" y1="286.40" x2="270.00" y2="289.40" stroke="#151515" stroke-width="1.0" />
<line x1="276.50" y1="286.40" x2="276.50" y2="289.40" stroke="#151515" stroke-width="1.0" />
<line x1="290.80" y1="286.40" x2="290.80" y2="289.40" stroke="#151515" stroke-width="1.0" />
<line x1="310.00" y1="286.40" x2="310.00" y2="289.40" stroke="#151515" stroke-width="1.0" />
<line x1="333.60" y1="286.40" x2="333.60" y2="289.40" stroke="#151515" stroke-width="1.0" />
<line x1="355.90" y1="286.40" x2="355.90" y2="289.40" stroke="#151515" stroke-width="1.0" />
<line x1="279.36" y1="286.40" x2="279.36" y2="288.00" stroke="#151515" stroke-width="0.6" />
<line x1="282.22" y1="286.40" x2="282.22" y2="288.00" stroke="#151515" stroke-width="0.6" />
<line x1="285.08" y1="286.40" x2="285.08" y2="288.00" stroke="#151515" stroke-width="0.6" />
<line x1="287.23" y1="286.40" x2="287.23" y2="288.00" stroke="#151515" stroke-width="0.6" />
<line x1="289.08" y1="286.40" x2="289.08" y2="288.00" stroke="#151515" stroke-width="0.6" />
<line x1="293.10" y1="286.40" x2="293.10" y2="288.00" stroke="#151515" stroke-width="0.6" />
<line x1="295.60" y1="286.40" x2="295.60" y2="288.00" stroke="#151515" stroke-width="0.6" />
<line x1="298.48" y1="286.40" x2="298.48" y2="288.00" stroke="#151515" stroke-width="0.6" />
<line x1="302.32" y1="286.40" x2="302.32" y2="288.00" stroke="#151515" stroke-width="0.6" />
<line x1="306.16" y1="286.40" x2="306.16" y2="288.00" stroke="#151515" stroke-width="0.6" />
<line x1="316.91" y1="286.40" x2="316.91" y2="288.00" stroke="#151515" stroke-width="0.6" />
<line x1="320.95" y1="286.40" x2="320.95" y2="288.00" stroke="#151515" stroke-width="0.6" />
<line x1="323.82" y1="286.40" x2="323.82" y2="288.00" stroke="#151515" stroke-width="0.6" />
<line x1="326.04" y1="286.40" x2="326.04" y2="288.00" stroke="#151515" stroke-width="0.6" />
<line x1="327.86" y1="286.40" x2="327.86" y2="288.00" stroke="#151515" stroke-width="0.6" />
<line x1="329.40" y1="286.40" x2="329.40" y2="288.00" stroke="#151515" stroke-width="0.6" />
<line x1="330.73" y1="286.40" x2="330.73" y2="288.00" stroke="#151515" stroke-width="0.6" />
<line x1="331.90" y1="286.40" x2="331.90" y2="288.00" stroke="#151515" stroke-width="0.6" />
<line x1="340.51" y1="286.40" x2="340.51" y2="288.00" stroke="#151515" stroke-width="0.6" />
<line x1="344.55" y1="286.40" x2="344.55" y2="288.00" stroke="#151515" stroke-width="0.6" />
<line x1="347.42" y1="286.40" x2="347.42" y2="288.00" stroke="#151515" stroke-width="0.6" />
<line x1="349.64" y1="286.40" x2="349.64" y2="288.00" stroke="#151515" stroke-width="0.6" />
<line x1="351.46" y1="286.40" x2="351.46" y2="288.00" stroke="#151515" stroke-width="0.6" />
<line x1="353.00" y1="286.40" x2="353.00" y2="288.00" stroke="#151515" stroke-width="0.6" />
<line x1="354.33" y1="286.40" x2="354.33" y2="288.00" stroke="#151515" stroke-width="0.6" />
<line x1="355.50" y1="286.40" x2="355.50" y2="288.00" stroke="#151515" stroke-width="0.6" />
<line x1="362.81" y1="286.40" x2="362.81" y2="288.00" stroke="#151515" stroke-width="0.6" />
<text x="276.50" y="299.60" font-size="9.0" text-anchor="middle" textLength="16.0" lengthAdjust="spacingAndGlyphs" >-10<tspan font-size="6.8" dy="-3.5">3</tspan></text>
<text x="290.80" y="299.60" font-size="9.0" text-anchor="middle" >0</text>
<text x="310.00" y="299.60" font-size="9.0" text-anchor="middle" textLength="13.2" lengthAdjust="spacingAndGlyphs" >10<tspan font-size="6.8" dy="-3.5">3</tspan></text>
<text x="333.60" y="299.60" font-size="9.0" text-anchor="middle" textLength="13.2" lengthAdjust="spacingAndGlyphs" >10<tspan font-size="6.8" dy="-3.5">4</tspan></text>
<text x="355.90" y="299.60" font-size="9.0" text-anchor="middle" textLength="13.2" lengthAdjust="spacingAndGlyphs" >10<tspan font-size="6.8" dy="-3.5">5</tspan></text>
<line x1="383.10" y1="192.50" x2="383.10" y2="287.00" stroke="#151515" stroke-width="1.4" />
<line x1="380.10" y1="286.40" x2="383.10" y2="286.40" stroke="#151515" stroke-width="1.0" />
<line x1="381.50" y1="281.55" x2="383.10" y2="281.55" stroke="#151515" stroke-width="0.7" />
<line x1="381.50" y1="276.70" x2="383.10" y2="276.70" stroke="#151515" stroke-width="0.7" />
<line x1="381.50" y1="271.85" x2="383.10" y2="271.85" stroke="#151515" stroke-width="0.7" />
<line x1="380.10" y1="267.00" x2="383.10" y2="267.00" stroke="#151515" stroke-width="1.0" />
<line x1="381.50" y1="262.15" x2="383.10" y2="262.15" stroke="#151515" stroke-width="0.7" />
<line x1="381.50" y1="257.30" x2="383.10" y2="257.30" stroke="#151515" stroke-width="0.7" />
<line x1="381.50" y1="252.45" x2="383.10" y2="252.45" stroke="#151515" stroke-width="0.7" />
<line x1="380.10" y1="247.60" x2="383.10" y2="247.60" stroke="#151515" stroke-width="1.0" />
<line x1="381.50" y1="242.75" x2="383.10" y2="242.75" stroke="#151515" stroke-width="0.7" />
<line x1="381.50" y1="237.90" x2="383.10" y2="237.90" stroke="#151515" stroke-width="0.7" />
<line x1="381.50" y1="233.05" x2="383.10" y2="233.05" stroke="#151515" stroke-width="0.7" />
<line x1="380.10" y1="228.20" x2="383.10" y2="228.20" stroke="#151515" stroke-width="1.0" />
<line x1="381.50" y1="223.35" x2="383.10" y2="223.35" stroke="#151515" stroke-width="0.7" />
<line x1="381.50" y1="218.50" x2="383.10" y2="218.50" stroke="#151515" stroke-width="0.7" />
<line x1="381.50" y1="213.65" x2="383.10" y2="213.65" stroke="#151515" stroke-width="0.7" />
<line x1="380.10" y1="208.80" x2="383.10" y2="208.80" stroke="#151515" stroke-width="1.0" />
<line x1="381.50" y1="203.95" x2="383.10" y2="203.95" stroke="#151515" stroke-width="0.7" />
<line x1="381.50" y1="199.10" x2="383.10" y2="199.10" stroke="#151515" stroke-width="0.7" />
<line x1="381.50" y1="194.25" x2="383.10" y2="194.25" stroke="#151515" stroke-width="0.7" />
<line x1="382.50" y1="286.80" x2="478.90" y2="286.80" stroke="#151515" stroke-width="1.4" />
<line x1="383.10" y1="286.40" x2="383.10" y2="289.40" stroke="#151515" stroke-width="1.0" />
<line x1="389.80" y1="286.40" x2="389.80" y2="289.40" stroke="#151515" stroke-width="1.0" />
<line x1="405.30" y1="286.40" x2="405.30" y2="289.40" stroke="#151515" stroke-width="1.0" />
<line x1="421.00" y1="286.40" x2="421.00" y2="289.40" stroke="#151515" stroke-width="1.0" />
<line x1="445.70" y1="286.40" x2="445.70" y2="289.40" stroke="#151515" stroke-width="1.0" />
<line x1="468.90" y1="286.40" x2="468.90" y2="289.40" stroke="#151515" stroke-width="1.0" />
<line x1="392.90" y1="286.40" x2="392.90" y2="288.00" stroke="#151515" stroke-width="0.6" />
<line x1="396.00" y1="286.40" x2="396.00" y2="288.00" stroke="#151515" stroke-width="0.6" />
<line x1="399.10" y1="286.40" x2="399.10" y2="288.00" stroke="#151515" stroke-width="0.6" />
<line x1="401.43" y1="286.40" x2="401.43" y2="288.00" stroke="#151515" stroke-width="0.6" />
<line x1="403.44" y1="286.40" x2="403.44" y2="288.00" stroke="#151515" stroke-width="0.6" />
<line x1="407.18" y1="286.40" x2="407.18" y2="288.00" stroke="#151515" stroke-width="0.6" />
<line x1="409.23" y1="286.40" x2="409.23" y2="288.00" stroke="#151515" stroke-width="0.6" />
<line x1="411.58" y1="286.40" x2="411.58" y2="288.00" stroke="#151515" stroke-width="0.6" />
<line x1="414.72" y1="286.40" x2="414.72" y2="288.00" stroke="#151515" stroke-width="0.6" />
<line x1="417.86" y1="286.40" x2="417.86" y2="288.00" stroke="#151515" stroke-width="0.6" />
<line x1="428.21" y1="286.40" x2="428.21" y2="288.00" stroke="#151515" stroke-width="0.6" />
<line x1="432.43" y1="286.40" x2="432.43" y2="288.00" stroke="#151515" stroke-width="0.6" />
<line x1="435.42" y1="286.40" x2="435.42" y2="288.00" stroke="#151515" stroke-width="0.6" />
<line x1="437.74" y1="286.40" x2="437.74" y2="288.00" stroke="#151515" stroke-width="0.6" />
<line x1="439.64" y1="286.40" x2="439.64" y2="288.00" stroke="#151515" stroke-width="0.6" />
<line x1="441.24" y1="286.40" x2="441.24" y2="288.00" stroke="#151515" stroke-width="0.6" />
<line x1="442.63" y1="286.40" x2="442.63" y2="288.00" stroke="#151515" stroke-width="0.6" />
<line x1="443.85" y1="286.40" x2="443.85" y2="288.00" stroke="#151515" stroke-width="0.6" />
<line x1="452.91" y1="286.40" x2="452.91" y2="288.00" stroke="#151515" stroke-width="0.6" />
<line x1="457.13" y1="286.40" x2="457.13" y2="288.00" stroke="#151515" stroke-width="0.6" />
<line x1="460.12" y1="286.40" x2="460.12" y2="288.00" stroke="#151515" stroke-width="0.6" />
<line x1="462.44" y1="286.40" x2="462.44" y2="288.00" stroke="#151515" stroke-width="0.6" />
<line x1="464.34" y1="286.40" x2="464.34" y2="288.00" stroke="#151515" stroke-width="0.6" />
<line x1="465.94" y1="286.40" x2="465.94" y2="288.00" stroke="#151515" stroke-width="0.6" />
<line x1="467.33" y1="286.40" x2="467.33" y2="288.00" stroke="#151515" stroke-width="0.6" />
<line x1="468.55" y1="286.40" x2="468.55" y2="288.00" stroke="#151515" stroke-width="0.6" />
<line x1="476.11" y1="286.40" x2="476.11" y2="288.00" stroke="#151515" stroke-width="0.6" />
<text x="389.80" y="299.60" font-size="9.0" text-anchor="middle" textLength="16.0" lengthAdjust="spacingAndGlyphs" >-10<tspan font-size="6.8" dy="-3.5">3</tspan></text>
<text x="405.30" y="299.60" font-size="9.0" text-anchor="middle" >0</text>
<text x="421.00" y="299.60" font-size="9.0" text-anchor="middle" textLength="13.2" lengthAdjust="spacingAndGlyphs" >10<tspan font-size="6.8" dy="-3.5">3</tspan></text>
<text x="445.70" y="299.60" font-size="9.0" text-anchor="middle" textLength="13.2" lengthAdjust="spacingAndGlyphs" >10<tspan font-size="6.8" dy="-3.5">4</tspan></text>
<text x="468.90" y="299.60" font-size="9.0" text-anchor="middle" textLength="13.2" lengthAdjust="spacingAndGlyphs" >10<tspan font-size="6.8" dy="-3.5">5</tspan></text>
<line x1="49.30" y1="343.00" x2="49.30" y2="436.80" stroke="#151515" stroke-width="1.4" />
<line x1="46.30" y1="436.20" x2="49.30" y2="436.20" stroke="#151515" stroke-width="1.0" />
<line x1="47.70" y1="431.35" x2="49.30" y2="431.35" stroke="#151515" stroke-width="0.7" />
<line x1="47.70" y1="426.50" x2="49.30" y2="426.50" stroke="#151515" stroke-width="0.7" />
<line x1="47.70" y1="421.65" x2="49.30" y2="421.65" stroke="#151515" stroke-width="0.7" />
<line x1="46.30" y1="416.80" x2="49.30" y2="416.80" stroke="#151515" stroke-width="1.0" />
<line x1="47.70" y1="411.95" x2="49.30" y2="411.95" stroke="#151515" stroke-width="0.7" />
<line x1="47.70" y1="407.10" x2="49.30" y2="407.10" stroke="#151515" stroke-width="0.7" />
<line x1="47.70" y1="402.25" x2="49.30" y2="402.25" stroke="#151515" stroke-width="0.7" />
<line x1="46.30" y1="397.40" x2="49.30" y2="397.40" stroke="#151515" stroke-width="1.0" />
<line x1="47.70" y1="392.55" x2="49.30" y2="392.55" stroke="#151515" stroke-width="0.7" />
<line x1="47.70" y1="387.70" x2="49.30" y2="387.70" stroke="#151515" stroke-width="0.7" />
<line x1="47.70" y1="382.85" x2="49.30" y2="382.85" stroke="#151515" stroke-width="0.7" />
<line x1="46.30" y1="378.00" x2="49.30" y2="378.00" stroke="#151515" stroke-width="1.0" />
<line x1="47.70" y1="373.15" x2="49.30" y2="373.15" stroke="#151515" stroke-width="0.7" />
<line x1="47.70" y1="368.30" x2="49.30" y2="368.30" stroke="#151515" stroke-width="0.7" />
<line x1="47.70" y1="363.45" x2="49.30" y2="363.45" stroke="#151515" stroke-width="0.7" />
<line x1="46.30" y1="358.60" x2="49.30" y2="358.60" stroke="#151515" stroke-width="1.0" />
<line x1="47.70" y1="353.75" x2="49.30" y2="353.75" stroke="#151515" stroke-width="0.7" />
<line x1="47.70" y1="348.90" x2="49.30" y2="348.90" stroke="#151515" stroke-width="0.7" />
<line x1="47.70" y1="344.05" x2="49.30" y2="344.05" stroke="#151515" stroke-width="0.7" />
<line x1="48.70" y1="436.60" x2="145.10" y2="436.60" stroke="#151515" stroke-width="1.4" />
<line x1="49.30" y1="436.20" x2="49.30" y2="439.20" stroke="#151515" stroke-width="1.0" />
<line x1="55.40" y1="436.20" x2="55.40" y2="439.20" stroke="#151515" stroke-width="1.0" />
<line x1="70.30" y1="436.20" x2="70.30" y2="439.20" stroke="#151515" stroke-width="1.0" />
<line x1="86.20" y1="436.20" x2="86.20" y2="439.20" stroke="#151515" stroke-width="1.0" />
<line x1="110.60" y1="436.20" x2="110.60" y2="439.20" stroke="#151515" stroke-width="1.0" />
<line x1="134.50" y1="436.20" x2="134.50" y2="439.20" stroke="#151515" stroke-width="1.0" />
<line x1="58.38" y1="436.20" x2="58.38" y2="437.80" stroke="#151515" stroke-width="0.6" />
<line x1="61.36" y1="436.20" x2="61.36" y2="437.80" stroke="#151515" stroke-width="0.6" />
<line x1="64.34" y1="436.20" x2="64.34" y2="437.80" stroke="#151515" stroke-width="0.6" />
<line x1="66.57" y1="436.20" x2="66.57" y2="437.80" stroke="#151515" stroke-width="0.6" />
<line x1="68.51" y1="436.20" x2="68.51" y2="437.80" stroke="#151515" stroke-width="0.6" />
<line x1="72.21" y1="436.20" x2="72.21" y2="437.80" stroke="#151515" stroke-width="0.6" />
<line x1="74.28" y1="436.20" x2="74.28" y2="437.80" stroke="#151515" stroke-width="0.6" />
<line x1="76.66" y1="436.20" x2="76.66" y2="437.80" stroke="#151515" stroke-width="0.6" />
<line x1="79.84" y1="436.20" x2="79.84" y2="437.80" stroke="#151515" stroke-width="0.6" />
<line x1="83.02" y1="436.20" x2="83.02" y2="437.80" stroke="#151515" stroke-width="0.6" />
<line x1="93.47" y1="436.20" x2="93.47" y2="437.80" stroke="#151515" stroke-width="0.6" />
<line x1="97.72" y1="436.20" x2="97.72" y2="437.80" stroke="#151515" stroke-width="0.6" />
<line x1="100.74" y1="436.20" x2="100.74" y2="437.80" stroke="#151515" stroke-width="0.6" />
<line x1="103.08" y1="436.20" x2="103.08" y2="437.80" stroke="#151515" stroke-width="0.6" />
<line x1="104.99" y1="436.20" x2="104.99" y2="437.80" stroke="#151515" stroke-width="0.6" />
<line x1="106.61" y1="436.20" x2="106.61" y2="437.80" stroke="#151515" stroke-width="0.6" />
<line x1="108.01" y1="436.20" x2="108.01" y2="437.80" stroke="#151515" stroke-width="0.6" />
<line x1="109.24" y1="436.20" x2="109.24" y2="437.80" stroke="#151515" stroke-width="0.6" />
<line x1="117.87" y1="436.20" x2="117.87" y2="437.80" stroke="#151515" stroke-width="0.6" />
<line x1="122.12" y1="436.20" x2="122.12" y2="437.80" stroke="#151515" stroke-width="0.6" />
<line x1="125.14" y1="436.20" x2="125.14" y2="437.80" stroke="#151515" stroke-width="0.6" />
<line x1="127.48" y1="436.20" x2="127.48" y2="437.80" stroke="#151515" stroke-width="0.6" />
<line x1="129.39" y1="436.20" x2="129.39" y2="437.80" stroke="#151515" stroke-width="0.6" />
<line x1="131.01" y1="436.20" x2="131.01" y2="437.80" stroke="#151515" stroke-width="0.6" />
<line x1="132.41" y1="436.20" x2="132.41" y2="437.80" stroke="#151515" stroke-width="0.6" />
<line x1="133.64" y1="436.20" x2="133.64" y2="437.80" stroke="#151515" stroke-width="0.6" />
<line x1="141.77" y1="436.20" x2="141.77" y2="437.80" stroke="#151515" stroke-width="0.6" />
<text x="55.40" y="450.50" font-size="9.0" text-anchor="middle" textLength="16.0" lengthAdjust="spacingAndGlyphs" >-10<tspan font-size="6.8" dy="-3.5">3</tspan></text>
<text x="70.30" y="449.40" font-size="9.0" text-anchor="middle" >0</text>
<text x="86.20" y="450.50" font-size="9.0" text-anchor="middle" textLength="13.2" lengthAdjust="spacingAndGlyphs" >10<tspan font-size="6.8" dy="-3.5">3</tspan></text>
<text x="110.60" y="450.50" font-size="9.0" text-anchor="middle" textLength="13.2" lengthAdjust="spacingAndGlyphs" >10<tspan font-size="6.8" dy="-3.5">4</tspan></text>
<text x="134.50" y="450.50" font-size="9.0" text-anchor="middle" textLength="13.2" lengthAdjust="spacingAndGlyphs" >10<tspan font-size="6.8" dy="-3.5">5</tspan></text>
<line x1="158.30" y1="343.00" x2="158.30" y2="436.80" stroke="#151515" stroke-width="1.4" />
<line x1="155.30" y1="436.20" x2="158.30" y2="436.20" stroke="#151515" stroke-width="1.0" />
<line x1="156.70" y1="431.35" x2="158.30" y2="431.35" stroke="#151515" stroke-width="0.7" />
<line x1="156.70" y1="426.50" x2="158.30" y2="426.50" stroke="#151515" stroke-width="0.7" />
<line x1="156.70" y1="421.65" x2="158.30" y2="421.65" stroke="#151515" stroke-width="0.7" />
<line x1="155.30" y1="416.80" x2="158.30" y2="416.80" stroke="#151515" stroke-width="1.0" />
<line x1="156.70" y1="411.95" x2="158.30" y2="411.95" stroke="#151515" stroke-width="0.7" />
<line x1="156.70" y1="407.10" x2="158.30" y2="407.10" stroke="#151515" stroke-width="0.7" />
<line x1="156.70" y1="402.25" x2="158.30" y2="402.25" stroke="#151515" stroke-width="0.7" />
<line x1="155.30" y1="397.40" x2="158.30" y2="397.40" stroke="#151515" stroke-width="1.0" />
<line x1="156.70" y1="392.55" x2="158.30" y2="392.55" stroke="#151515" stroke-width="0.7" />
<line x1="156.70" y1="387.70" x2="158.30" y2="387.70" stroke="#151515" stroke-width="0.7" />
<line x1="156.70" y1="382.85" x2="158.30" y2="382.85" stroke="#151515" stroke-width="0.7" />
<line x1="155.30" y1="378.00" x2="158.30" y2="378.00" stroke="#151515" stroke-width="1.0" />
<line x1="156.70" y1="373.15" x2="158.30" y2="373.15" stroke="#151515" stroke-width="0.7" />
<line x1="156.70" y1="368.30" x2="158.30" y2="368.30" stroke="#151515" stroke-width="0.7" />
<line x1="156.70" y1="363.45" x2="158.30" y2="363.45" stroke="#151515" stroke-width="0.7" />
<line x1="155.30" y1="358.60" x2="158.30" y2="358.60" stroke="#151515" stroke-width="1.0" />
<line x1="156.70" y1="353.75" x2="158.30" y2="353.75" stroke="#151515" stroke-width="0.7" />
<line x1="156.70" y1="348.90" x2="158.30" y2="348.90" stroke="#151515" stroke-width="0.7" />
<line x1="156.70" y1="344.05" x2="158.30" y2="344.05" stroke="#151515" stroke-width="0.7" />
<line x1="157.70" y1="436.60" x2="254.10" y2="436.60" stroke="#151515" stroke-width="1.4" />
<line x1="158.30" y1="436.20" x2="158.30" y2="439.20" stroke="#151515" stroke-width="1.0" />
<line x1="164.40" y1="436.20" x2="164.40" y2="439.20" stroke="#151515" stroke-width="1.0" />
<line x1="180.30" y1="436.20" x2="180.30" y2="439.20" stroke="#151515" stroke-width="1.0" />
<line x1="195.50" y1="436.20" x2="195.50" y2="439.20" stroke="#151515" stroke-width="1.0" />
<line x1="219.60" y1="436.20" x2="219.60" y2="439.20" stroke="#151515" stroke-width="1.0" />
<line x1="243.50" y1="436.20" x2="243.50" y2="439.20" stroke="#151515" stroke-width="1.0" />
<line x1="167.58" y1="436.20" x2="167.58" y2="437.80" stroke="#151515" stroke-width="0.6" />
<line x1="170.76" y1="436.20" x2="170.76" y2="437.80" stroke="#151515" stroke-width="0.6" />
<line x1="173.94" y1="436.20" x2="173.94" y2="437.80" stroke="#151515" stroke-width="0.6" />
<line x1="176.33" y1="436.20" x2="176.33" y2="437.80" stroke="#151515" stroke-width="0.6" />
<line x1="178.39" y1="436.20" x2="178.39" y2="437.80" stroke="#151515" stroke-width="0.6" />
<line x1="182.12" y1="436.20" x2="182.12" y2="437.80" stroke="#151515" stroke-width="0.6" />
<line x1="184.10" y1="436.20" x2="184.10" y2="437.80" stroke="#151515" stroke-width="0.6" />
<line x1="186.38" y1="436.20" x2="186.38" y2="437.80" stroke="#151515" stroke-width="0.6" />
<line x1="189.42" y1="436.20" x2="189.42" y2="437.80" stroke="#151515" stroke-width="0.6" />
<line x1="192.46" y1="436.20" x2="192.46" y2="437.80" stroke="#151515" stroke-width="0.6" />
<line x1="202.72" y1="436.20" x2="202.72" y2="437.80" stroke="#151515" stroke-width="0.6" />
<line x1="206.95" y1="436.20" x2="206.95" y2="437.80" stroke="#151515" stroke-width="0.6" />
<line x1="209.95" y1="436.20" x2="209.95" y2="437.80" stroke="#151515" stroke-width="0.6" />
<line x1="212.28" y1="436.20" x2="212.28" y2="437.80" stroke="#151515" stroke-width="0.6" />
<line x1="214.18" y1="436.20" x2="214.18" y2="437.80" stroke="#151515" stroke-width="0.6" />
<line x1="215.78" y1="436.20" x2="215.78" y2="437.80" stroke="#151515" stroke-width="0.6" />
<line x1="217.17" y1="436.20" x2="217.17" y2="437.80" stroke="#151515" stroke-width="0.6" />
<line x1="218.40" y1="436.20" x2="218.40" y2="437.80" stroke="#151515" stroke-width="0.6" />
<line x1="226.82" y1="436.20" x2="226.82" y2="437.80" stroke="#151515" stroke-width="0.6" />
<line x1="231.05" y1="436.20" x2="231.05" y2="437.80" stroke="#151515" stroke-width="0.6" />
<line x1="234.05" y1="436.20" x2="234.05" y2="437.80" stroke="#151515" stroke-width="0.6" />
<line x1="236.38" y1="436.20" x2="236.38" y2="437.80" stroke="#151515" stroke-width="0.6" />
<line x1="238.28" y1="436.20" x2="238.28" y2="437.80" stroke="#151515" stroke-width="0.6" />
<line x1="239.88" y1="436.20" x2="239.88" y2="437.80" stroke="#151515" stroke-width="0.6" />
<line x1="241.27" y1="436.20" x2="241.27" y2="437.80" stroke="#151515" stroke-width="0.6" />
<line x1="242.50" y1="436.20" x2="242.50" y2="437.80" stroke="#151515" stroke-width="0.6" />
<line x1="250.72" y1="436.20" x2="250.72" y2="437.80" stroke="#151515" stroke-width="0.6" />
<text x="164.40" y="450.50" font-size="9.0" text-anchor="middle" textLength="16.0" lengthAdjust="spacingAndGlyphs" >-10<tspan font-size="6.8" dy="-3.5">3</tspan></text>
<text x="180.30" y="449.40" font-size="9.0" text-anchor="middle" >0</text>
<text x="195.50" y="450.50" font-size="9.0" text-anchor="middle" textLength="13.2" lengthAdjust="spacingAndGlyphs" >10<tspan font-size="6.8" dy="-3.5">3</tspan></text>
<text x="219.60" y="450.50" font-size="9.0" text-anchor="middle" textLength="13.2" lengthAdjust="spacingAndGlyphs" >10<tspan font-size="6.8" dy="-3.5">4</tspan></text>
<text x="243.50" y="450.50" font-size="9.0" text-anchor="middle" textLength="13.2" lengthAdjust="spacingAndGlyphs" >10<tspan font-size="6.8" dy="-3.5">5</tspan></text>
<line x1="270.10" y1="343.00" x2="270.10" y2="436.80" stroke="#151515" stroke-width="1.4" />
<line x1="267.10" y1="436.20" x2="270.10" y2="436.20" stroke="#151515" stroke-width="1.0" />
<line x1="268.50" y1="431.35" x2="270.10" y2="431.35" stroke="#151515" stroke-width="0.7" />
<line x1="268.50" y1="426.50" x2="270.10" y2="426.50" stroke="#151515" stroke-width="0.7" />
<line x1="268.50" y1="421.65" x2="270.10" y2="421.65" stroke="#151515" stroke-width="0.7" />
<line x1="267.10" y1="416.80" x2="270.10" y2="416.80" stroke="#151515" stroke-width="1.0" />
<line x1="268.50" y1="411.95" x2="270.10" y2="411.95" stroke="#151515" stroke-width="0.7" />
<line x1="268.50" y1="407.10" x2="270.10" y2="407.10" stroke="#151515" stroke-width="0.7" />
<line x1="268.50" y1="402.25" x2="270.10" y2="402.25" stroke="#151515" stroke-width="0.7" />
<line x1="267.10" y1="397.40" x2="270.10" y2="397.40" stroke="#151515" stroke-width="1.0" />
<line x1="268.50" y1="392.55" x2="270.10" y2="392.55" stroke="#151515" stroke-width="0.7" />
<line x1="268.50" y1="387.70" x2="270.10" y2="387.70" stroke="#151515" stroke-width="0.7" />
<line x1="268.50" y1="382.85" x2="270.10" y2="382.85" stroke="#151515" stroke-width="0.7" />
<line x1="267.10" y1="378.00" x2="270.10" y2="378.00" stroke="#151515" stroke-width="1.0" />
<line x1="268.50" y1="373.15" x2="270.10" y2="373.15" stroke="#151515" stroke-width="0.7" />
<line x1="268.50" y1="368.30" x2="270.10" y2="368.30" stroke="#151515" stroke-width="0.7" />
<line x1="268.50" y1="363.45" x2="270.10" y2="363.45" stroke="#151515" stroke-width="0.7" />
<line x1="267.10" y1="358.60" x2="270.10" y2="358.60" stroke="#151515" stroke-width="1.0" />
<line x1="268.50" y1="353.75" x2="270.10" y2="353.75" stroke="#151515" stroke-width="0.7" />
<line x1="268.50" y1="348.90" x2="270.10" y2="348.90" stroke="#151515" stroke-width="0.7" />
<line x1="268.50" y1="344.05" x2="270.10" y2="344.05" stroke="#151515" stroke-width="0.7" />
<line x1="269.50" y1="436.60" x2="365.90" y2="436.60" stroke="#151515" stroke-width="1.4" />
<line x1="270.10" y1="436.20" x2="270.10" y2="439.20" stroke="#151515" stroke-width="1.0" />
<line x1="276.40" y1="436.20" x2="276.40" y2="439.20" stroke="#151515" stroke-width="1.0" />
<line x1="291.30" y1="436.20" x2="291.30" y2="439.20" stroke="#151515" stroke-width="1.0" />
<line x1="307.30" y1="436.20" x2="307.30" y2="439.20" stroke="#151515" stroke-width="1.0" />
<line x1="331.60" y1="436.20" x2="331.60" y2="439.20" stroke="#151515" stroke-width="1.0" />
<line x1="355.50" y1="436.20" x2="355.50" y2="439.20" stroke="#151515" stroke-width="1.0" />
<line x1="279.38" y1="436.20" x2="279.38" y2="437.80" stroke="#151515" stroke-width="0.6" />
<line x1="282.36" y1="436.20" x2="282.36" y2="437.80" stroke="#151515" stroke-width="0.6" />
<line x1="285.34" y1="436.20" x2="285.34" y2="437.80" stroke="#151515" stroke-width="0.6" />
<line x1="287.58" y1="436.20" x2="287.58" y2="437.80" stroke="#151515" stroke-width="0.6" />
<line x1="289.51" y1="436.20" x2="289.51" y2="437.80" stroke="#151515" stroke-width="0.6" />
<line x1="293.22" y1="436.20" x2="293.22" y2="437.80" stroke="#151515" stroke-width="0.6" />
<line x1="295.30" y1="436.20" x2="295.30" y2="437.80" stroke="#151515" stroke-width="0.6" />
<line x1="297.70" y1="436.20" x2="297.70" y2="437.80" stroke="#151515" stroke-width="0.6" />
<line x1="300.90" y1="436.20" x2="300.90" y2="437.80" stroke="#151515" stroke-width="0.6" />
<line x1="304.10" y1="436.20" x2="304.10" y2="437.80" stroke="#151515" stroke-width="0.6" />
<line x1="314.55" y1="436.20" x2="314.55" y2="437.80" stroke="#151515" stroke-width="0.6" />
<line x1="318.80" y1="436.20" x2="318.80" y2="437.80" stroke="#151515" stroke-width="0.6" />
<line x1="321.81" y1="436.20" x2="321.81" y2="437.80" stroke="#151515" stroke-width="0.6" />
<line x1="324.15" y1="436.20" x2="324.15" y2="437.80" stroke="#151515" stroke-width="0.6" />
<line x1="326.05" y1="436.20" x2="326.05" y2="437.80" stroke="#151515" stroke-width="0.6" />
<line x1="327.67" y1="436.20" x2="327.67" y2="437.80" stroke="#151515" stroke-width="0.6" />
<line x1="329.06" y1="436.20" x2="329.06" y2="437.80" stroke="#151515" stroke-width="0.6" />
<line x1="330.30" y1="436.20" x2="330.30" y2="437.80" stroke="#151515" stroke-width="0.6" />
<line x1="338.85" y1="436.20" x2="338.85" y2="437.80" stroke="#151515" stroke-width="0.6" />
<line x1="343.10" y1="436.20" x2="343.10" y2="437.80" stroke="#151515" stroke-width="0.6" />
<line x1="346.11" y1="436.20" x2="346.11" y2="437.80" stroke="#151515" stroke-width="0.6" />
<line x1="348.45" y1="436.20" x2="348.45" y2="437.80" stroke="#151515" stroke-width="0.6" />
<line x1="350.35" y1="436.20" x2="350.35" y2="437.80" stroke="#151515" stroke-width="0.6" />
<line x1="351.97" y1="436.20" x2="351.97" y2="437.80" stroke="#151515" stroke-width="0.6" />
<line x1="353.36" y1="436.20" x2="353.36" y2="437.80" stroke="#151515" stroke-width="0.6" />
<line x1="354.60" y1="436.20" x2="354.60" y2="437.80" stroke="#151515" stroke-width="0.6" />
<line x1="362.75" y1="436.20" x2="362.75" y2="437.80" stroke="#151515" stroke-width="0.6" />
<text x="276.40" y="450.50" font-size="9.0" text-anchor="middle" textLength="16.0" lengthAdjust="spacingAndGlyphs" >-10<tspan font-size="6.8" dy="-3.5">3</tspan></text>
<text x="291.30" y="449.40" font-size="9.0" text-anchor="middle" >0</text>
<text x="307.30" y="450.50" font-size="9.0" text-anchor="middle" textLength="13.2" lengthAdjust="spacingAndGlyphs" >10<tspan font-size="6.8" dy="-3.5">3</tspan></text>
<text x="331.60" y="450.50" font-size="9.0" text-anchor="middle" textLength="13.2" lengthAdjust="spacingAndGlyphs" >10<tspan font-size="6.8" dy="-3.5">4</tspan></text>
<text x="355.50" y="450.50" font-size="9.0" text-anchor="middle" textLength="13.2" lengthAdjust="spacingAndGlyphs" >10<tspan font-size="6.8" dy="-3.5">5</tspan></text>
<line x1="383.10" y1="343.00" x2="383.10" y2="436.80" stroke="#151515" stroke-width="1.4" />
<line x1="380.10" y1="436.20" x2="383.10" y2="436.20" stroke="#151515" stroke-width="1.0" />
<line x1="381.50" y1="431.35" x2="383.10" y2="431.35" stroke="#151515" stroke-width="0.7" />
<line x1="381.50" y1="426.50" x2="383.10" y2="426.50" stroke="#151515" stroke-width="0.7" />
<line x1="381.50" y1="421.65" x2="383.10" y2="421.65" stroke="#151515" stroke-width="0.7" />
<line x1="380.10" y1="416.80" x2="383.10" y2="416.80" stroke="#151515" stroke-width="1.0" />
<line x1="381.50" y1="411.95" x2="383.10" y2="411.95" stroke="#151515" stroke-width="0.7" />
<line x1="381.50" y1="407.10" x2="383.10" y2="407.10" stroke="#151515" stroke-width="0.7" />
<line x1="381.50" y1="402.25" x2="383.10" y2="402.25" stroke="#151515" stroke-width="0.7" />
<line x1="380.10" y1="397.40" x2="383.10" y2="397.40" stroke="#151515" stroke-width="1.0" />
<line x1="381.50" y1="392.55" x2="383.10" y2="392.55" stroke="#151515" stroke-width="0.7" />
<line x1="381.50" y1="387.70" x2="383.10" y2="387.70" stroke="#151515" stroke-width="0.7" />
<line x1="381.50" y1="382.85" x2="383.10" y2="382.85" stroke="#151515" stroke-width="0.7" />
<line x1="380.10" y1="378.00" x2="383.10" y2="378.00" stroke="#151515" stroke-width="1.0" />
<line x1="381.50" y1="373.15" x2="383.10" y2="373.15" stroke="#151515" stroke-width="0.7" />
<line x1="381.50" y1="368.30" x2="383.10" y2="368.30" stroke="#151515" stroke-width="0.7" />
<line x1="381.50" y1="363.45" x2="383.10" y2="363.45" stroke="#151515" stroke-width="0.7" />
<line x1="380.10" y1="358.60" x2="383.10" y2="358.60" stroke="#151515" stroke-width="1.0" />
<line x1="381.50" y1="353.75" x2="383.10" y2="353.75" stroke="#151515" stroke-width="0.7" />
<line x1="381.50" y1="348.90" x2="383.10" y2="348.90" stroke="#151515" stroke-width="0.7" />
<line x1="381.50" y1="344.05" x2="383.10" y2="344.05" stroke="#151515" stroke-width="0.7" />
<line x1="382.50" y1="436.60" x2="478.90" y2="436.60" stroke="#151515" stroke-width="1.4" />
<line x1="383.10" y1="436.20" x2="383.10" y2="439.20" stroke="#151515" stroke-width="1.0" />
<line x1="389.60" y1="436.20" x2="389.60" y2="439.20" stroke="#151515" stroke-width="1.0" />
<line x1="405.30" y1="436.20" x2="405.30" y2="439.20" stroke="#151515" stroke-width="1.0" />
<line x1="420.50" y1="436.20" x2="420.50" y2="439.20" stroke="#151515" stroke-width="1.0" />
<line x1="444.90" y1="436.20" x2="444.90" y2="439.20" stroke="#151515" stroke-width="1.0" />
<line x1="468.50" y1="436.20" x2="468.50" y2="439.20" stroke="#151515" stroke-width="1.0" />
<line x1="392.74" y1="436.20" x2="392.74" y2="437.80" stroke="#151515" stroke-width="0.6" />
<line x1="395.88" y1="436.20" x2="395.88" y2="437.80" stroke="#151515" stroke-width="0.6" />
<line x1="399.02" y1="436.20" x2="399.02" y2="437.80" stroke="#151515" stroke-width="0.6" />
<line x1="401.38" y1="436.20" x2="401.38" y2="437.80" stroke="#151515" stroke-width="0.6" />
<line x1="403.42" y1="436.20" x2="403.42" y2="437.80" stroke="#151515" stroke-width="0.6" />
<line x1="407.12" y1="436.20" x2="407.12" y2="437.80" stroke="#151515" stroke-width="0.6" />
<line x1="409.10" y1="436.20" x2="409.10" y2="437.80" stroke="#151515" stroke-width="0.6" />
<line x1="411.38" y1="436.20" x2="411.38" y2="437.80" stroke="#151515" stroke-width="0.6" />
<line x1="414.42" y1="436.20" x2="414.42" y2="437.80" stroke="#151515" stroke-width="0.6" />
<line x1="417.46" y1="436.20" x2="417.46" y2="437.80" stroke="#151515" stroke-width="0.6" />
<line x1="427.72" y1="436.20" x2="427.72" y2="437.80" stroke="#151515" stroke-width="0.6" />
<line x1="431.95" y1="436.20" x2="431.95" y2="437.80" stroke="#151515" stroke-width="0.6" />
<line x1="434.95" y1="436.20" x2="434.95" y2="437.80" stroke="#151515" stroke-width="0.6" />
<line x1="437.28" y1="436.20" x2="437.28" y2="437.80" stroke="#151515" stroke-width="0.6" />
<line x1="439.18" y1="436.20" x2="439.18" y2="437.80" stroke="#151515" stroke-width="0.6" />
<line x1="440.78" y1="436.20" x2="440.78" y2="437.80" stroke="#151515" stroke-width="0.6" />
<line x1="442.17" y1="436.20" x2="442.17" y2="437.80" stroke="#151515" stroke-width="0.6" />
<line x1="443.40" y1="436.20" x2="443.40" y2="437.80" stroke="#151515" stroke-width="0.6" />
<line x1="452.12" y1="436.20" x2="452.12" y2="437.80" stroke="#151515" stroke-width="0.6" />
<line x1="456.35" y1="436.20" x2="456.35" y2="437.80" stroke="#151515" stroke-width="0.6" />
<line x1="459.35" y1="436.20" x2="459.35" y2="437.80" stroke="#151515" stroke-width="0.6" />
<line x1="461.68" y1="436.20" x2="461.68" y2="437.80" stroke="#151515" stroke-width="0.6" />
<line x1="463.58" y1="436.20" x2="463.58" y2="437.80" stroke="#151515" stroke-width="0.6" />
<line x1="465.18" y1="436.20" x2="465.18" y2="437.80" stroke="#151515" stroke-width="0.6" />
<line x1="466.57" y1="436.20" x2="466.57" y2="437.80" stroke="#151515" stroke-width="0.6" />
<line x1="467.80" y1="436.20" x2="467.80" y2="437.80" stroke="#151515" stroke-width="0.6" />
<line x1="475.72" y1="436.20" x2="475.72" y2="437.80" stroke="#151515" stroke-width="0.6" />
<text x="389.60" y="450.50" font-size="9.0" text-anchor="middle" textLength="16.0" lengthAdjust="spacingAndGlyphs" >-10<tspan font-size="6.8" dy="-3.5">3</tspan></text>
<text x="405.30" y="449.40" font-size="9.0" text-anchor="middle" >0</text>
<text x="420.50" y="450.50" font-size="9.0" text-anchor="middle" textLength="13.2" lengthAdjust="spacingAndGlyphs" >10<tspan font-size="6.8" dy="-3.5">3</tspan></text>
<text x="444.90" y="450.50" font-size="9.0" text-anchor="middle" textLength="13.2" lengthAdjust="spacingAndGlyphs" >10<tspan font-size="6.8" dy="-3.5">4</tspan></text>
<text x="468.50" y="450.50" font-size="9.0" text-anchor="middle" textLength="13.2" lengthAdjust="spacingAndGlyphs" >10<tspan font-size="6.8" dy="-3.5">5</tspan></text>
<text x="41.00" y="239.20" font-size="10.4" text-anchor="middle" textLength="34.2" lengthAdjust="spacingAndGlyphs" transform="rotate(-90 41.00 239.20)" >Cell count</text>
<text x="39.60" y="389.00" font-size="10.4" text-anchor="middle" textLength="34.2" lengthAdjust="spacingAndGlyphs" transform="rotate(-90 39.60 389.00)" >Cell count</text>
<path d="M66.0,286.4 L66.4,282.8 L66.8,275.5 L67.2,268.3 L67.6,261.0 L68.0,253.8 L68.4,246.5 L68.8,239.3 L69.2,232.0 L69.6,224.8 L70.0,217.5 L70.4,210.3 L70.8,203.0 L71.2,195.8 L71.6,202.4 L72.0,209.0 L72.4,215.6 L72.8,222.2 L73.2,228.7 L73.6,235.3 L74.0,241.9 L74.4,248.5 L74.8,255.1 L75.2,261.7 L75.6,268.3 L76.0,274.9 L76.4,281.5 L76.8,286.4 L76.9,286.4 Z" fill="#8d94bc" stroke="#34518f" stroke-width="1.0" stroke-linejoin="round"/>
<path d="M68.5,286.4 L68.9,286.3 L69.3,286.3 L69.7,286.1 L70.1,285.9 L70.5,285.6 L70.9,285.1 L71.3,284.5 L71.7,283.7 L72.1,282.8 L72.5,281.8 L72.9,280.9 L73.3,280.2 L73.7,279.7 L74.1,279.6 L74.5,279.8 L74.9,280.1 L75.3,280.6 L75.7,281.2 L76.1,281.9 L76.5,282.6 L76.9,283.3 L77.3,283.9 L77.7,284.5 L78.1,284.9 L78.5,285.3 L78.9,285.7 L79.3,285.9 L79.7,286.1 L80.1,286.2 L80.5,286.3 L80.9,286.3 L81.3,286.3 L81.7,286.4 L82.0,286.4 M105.5,286.4 L105.9,286.3 L106.3,286.3 L106.7,286.2 L107.1,286.1 L107.5,286.0 L107.9,285.9 L108.3,285.7 L108.7,285.5 L109.1,285.3 L109.5,285.0 L109.9,284.7 L110.3,284.3 L110.7,283.9 L111.1,283.5 L111.5,283.1 L111.9,282.7 L112.3,282.2 L112.7,281.7 L113.1,281.1 L113.5,280.4 L113.9,279.7 L114.3,278.7 L114.7,277.6 L115.1,276.3 L115.5,274.8 L115.9,273.1 L116.3,271.2 L116.7,269.1 L117.1,266.9 L117.5,264.6 L117.9,262.2 L118.3,260.0 L118.7,257.8 L119.1,255.9 L119.5,254.3 L119.9,253.0 L120.3,252.1 L120.7,251.6 L121.1,251.7 L121.5,252.3 L121.9,253.5 L122.3,255.3 L122.7,257.4 L123.1,260.0 L123.5,262.7 L123.9,265.5 L124.3,268.3 L124.7,271.1 L125.1,273.6 L125.5,275.9 L125.9,278.0 L126.3,279.7 L126.7,281.2 L127.1,282.5 L127.5,283.5 L127.9,284.2 L128.3,284.8 L128.7,285.3 L129.1,285.6 L129.5,285.9 L129.9,286.0 L130.3,286.2 L130.7,286.2 L131.0,286.3" fill="none" stroke="#bd1f4c" stroke-width="1.1" stroke-linejoin="round"/>
<path d="M174.8,286.4 L175.2,283.2 L175.6,276.7 L176.0,270.3 L176.4,263.8 L176.8,257.3 L177.2,250.9 L177.6,244.4 L178.0,238.0 L178.4,231.5 L178.8,225.1 L179.2,218.6 L179.6,212.1 L180.0,205.7 L180.4,199.2 L180.6,196.0 L180.8,198.8 L181.2,204.5 L181.6,210.1 L182.0,215.8 L182.4,221.4 L182.8,227.1 L183.2,232.7 L183.6,238.4 L184.0,244.0 L184.4,249.7 L184.8,255.3 L185.2,261.0 L185.6,266.6 L186.0,272.3 L186.4,277.9 L186.8,283.6 L187.2,286.4 Z" fill="#8d94bc" stroke="#34518f" stroke-width="1.0" stroke-linejoin="round"/>
<path d="M158.4,285.4 L158.8,285.4 L159.2,285.4 L159.6,285.4 L160.0,285.4 L160.4,285.4 L160.8,285.4 L161.2,285.4 L161.6,285.4 L162.0,285.4 L162.4,285.4 L162.8,285.4 L163.2,285.4 L163.6,285.4 L164.0,285.4 L164.4,285.4 L164.8,285.4 L165.2,285.4 L165.6,285.4 L166.0,285.4 L166.4,285.4 L166.8,285.4 L167.2,285.4 L167.6,285.4 L168.0,285.4 L168.4,285.4 L168.8,285.4 L169.2,285.4 L169.6,285.4 L170.0,285.4 L170.4,285.4 L170.8,285.4 L171.2,285.4 L171.6,285.4 L172.0,285.4 L172.4,285.4 L172.8,285.4 L173.2,285.4 L173.6,285.4 L174.0,285.4 L174.4,285.4 L174.8,285.3 L175.2,285.2 L175.6,285.1 L176.0,285.0 L176.4,284.7 L176.8,284.4 L177.2,284.0 L177.6,283.4 L178.0,282.8 L178.4,282.1 L178.8,281.4 L179.2,280.8 L179.6,280.4 L180.0,280.1 L180.4,280.0 L180.8,280.2 L181.2,280.6 L181.6,281.1 L182.0,281.8 L182.4,282.5 L182.8,283.1 L183.2,283.7 L183.6,284.2 L184.0,284.6 L184.4,284.9 L184.8,285.1 L185.2,285.2 L185.6,285.3 L186.0,285.3 L186.4,285.4 L186.8,285.4 L187.2,285.4 L187.6,285.4 L188.0,285.4 L188.4,285.4 L188.8,285.4 L189.2,285.4 L189.6,285.4 L190.0,285.4 L190.4,285.4 L190.8,285.4 L191.2,285.4 L191.6,285.4 L192.0,285.4 L192.4,285.4 L192.8,285.4 L193.2,285.4 L193.6,285.4 L194.0,285.4 L194.4,285.4 L194.8,285.4 L195.2,285.4 L195.6,285.4 L196.0,285.4 L196.4,285.4 L196.8,285.4 L197.2,285.4 L197.6,285.4 L198.0,285.4 L198.4,285.4 L198.8,285.4 L199.2,285.4 L199.6,285.4 L200.0,285.4 L200.4,285.4 L200.8,285.4 L201.2,285.4 L201.6,285.4 L202.0,285.4 L202.4,285.4 L202.8,285.4 L203.2,285.4 L203.6,285.4 L204.0,285.4 L204.4,285.4 L204.8,285.4 L205.2,285.4 L205.6,285.4 L206.0,285.4 L206.4,285.4 L206.8,285.4 L207.2,285.4 L207.6,285.4 L208.0,285.4 L208.4,285.4 L208.8,285.4 L209.2,285.4 L209.6,285.4 L210.0,285.4 L210.4,285.3 L210.8,285.3 L211.2,285.3 L211.6,285.2 L212.0,285.2 L212.4,285.1 L212.8,284.9 L213.2,284.7 L213.6,284.5 L214.0,284.2 L214.4,283.8 L214.8,283.3 L215.2,282.6 L215.6,281.9 L216.0,280.9 L216.4,279.8 L216.8,278.5 L217.2,276.9 L217.6,275.1 L218.0,273.2 L218.4,270.9 L218.8,268.5 L219.2,266.0 L219.6,263.3 L220.0,260.5 L220.4,257.7 L220.8,254.9 L221.2,252.3 L221.6,249.9 L222.0,247.7 L222.4,245.9 L222.8,244.4 L223.2,243.5 L223.6,243.0 L224.0,243.0 L224.4,243.6 L224.8,244.8 L225.2,246.5 L225.6,248.7 L226.0,251.3 L226.4,254.1 L226.8,257.1 L227.2,260.2 L227.6,263.3 L228.0,266.3 L228.4,269.1 L228.8,271.7 L229.2,274.0 L229.6,276.1 L230.0,277.9 L230.4,279.5 L230.8,280.8 L231.2,281.8 L231.6,282.7 L232.0,283.4 L232.4,283.9 L232.8,284.3 L233.2,284.6 L233.6,284.9 L234.0,285.0 L234.4,285.1 L234.8,285.2 L235.2,285.3 L235.6,285.3 L236.0,285.3 L236.4,285.4 L236.8,285.4 L237.2,285.4 L237.6,285.4 L238.0,285.4 L238.4,285.4 L238.8,285.4 L239.2,285.4 L239.6,285.4 L240.0,285.4 L240.4,285.4 L240.8,285.4 L241.2,285.4 L241.6,285.4 L242.0,285.4 L242.4,285.4 L242.8,285.4 L243.2,285.4 L243.6,285.4 L244.0,285.4 L244.4,285.4 L244.8,285.4 L245.2,285.4 L245.6,285.4 L246.0,285.4 L246.4,285.4 L246.8,285.4 L247.2,285.4 L247.6,285.4 L248.0,285.4 L248.4,285.4 L248.8,285.4 L249.2,285.4 L249.6,285.4 L250.0,285.4 L250.4,285.4 L250.8,285.4 L251.2,285.4 L251.6,285.4 L252.0,285.4 L252.4,285.4 L252.8,285.4 L253.2,285.4 L253.6,285.4 L254.0,285.4 L254.2,285.4" fill="none" stroke="#bd1f4c" stroke-width="1.1" stroke-linejoin="round"/>
<path d="M286.9,286.4 L287.3,279.6 L287.7,272.8 L288.1,265.9 L288.5,259.1 L288.9,252.3 L289.3,245.5 L289.7,238.6 L290.1,231.8 L290.5,225.0 L290.9,218.2 L291.3,211.4 L291.7,204.5 L292.1,197.7 L292.2,196.0 L292.5,199.8 L292.9,204.8 L293.3,209.8 L293.7,214.8 L294.1,219.9 L294.5,224.9 L294.9,229.9 L295.3,234.9 L295.7,239.9 L296.1,245.0 L296.5,250.0 L296.9,255.0 L297.3,260.0 L297.7,265.1 L298.1,270.1 L298.5,275.1 L298.9,280.1 L299.3,285.1 L299.4,286.4 Z" fill="#8d94bc" stroke="#34518f" stroke-width="1.0" stroke-linejoin="round"/>
<path d="M285.3,286.4 C285.4,286.3 285.6,286.6 286.2,285.6 C286.8,284.6 288.0,283.0 288.7,280.2 C289.4,277.4 290.1,272.4 290.6,268.8 C291.2,265.2 291.6,261.4 292.0,258.3 C292.4,255.2 292.8,251.0 293.2,250.2 C293.6,249.4 294.1,252.4 294.6,253.6 C295.1,254.8 295.6,256.0 296.0,257.6 C296.4,259.2 296.6,261.0 296.9,263.5 C297.2,266.0 297.4,269.8 297.8,272.6 C298.2,275.4 298.6,278.4 299.1,280.2 C299.6,282.0 300.2,282.7 301.0,283.4 C301.8,284.1 301.6,284.1 303.9,284.3 C306.2,284.5 311.5,284.3 315.0,284.3 C318.5,284.3 322.8,284.3 325.0,284.1 C327.2,283.9 327.5,283.9 328.5,283.2 C329.5,282.5 330.2,281.3 331.0,280.2 C331.8,279.1 332.7,277.1 333.5,276.6 C334.3,276.2 335.1,277.5 335.9,277.5 C336.7,277.5 337.5,276.1 338.3,276.4 C339.1,276.6 339.9,277.9 340.8,279.0 C341.7,280.1 342.5,282.2 343.5,283.2 C344.5,284.2 345.1,284.8 347.0,285.2 C348.9,285.6 351.9,285.6 355.0,285.8 C358.1,286.0 364.0,286.1 365.8,286.2" fill="none" stroke="#bd1f4c" stroke-width="1.1" stroke-linejoin="round"/>
<path d="M401.0,286.4 C401.2,285.3 401.9,282.7 402.4,280.0 C402.8,277.3 403.4,275.8 403.7,270.0 C404.0,264.2 404.2,252.5 404.4,245.0 C404.6,237.5 404.8,232.9 405.0,225.0 C405.2,217.1 405.3,197.8 405.5,197.8 C405.7,197.8 405.7,217.1 406.0,225.0 C406.3,232.9 406.5,237.5 407.1,245.0 C407.7,252.5 408.9,264.2 409.5,270.0 C410.1,275.8 410.3,277.3 410.7,280.0 C411.1,282.7 411.5,285.3 411.6,286.4 Z" fill="#8d94bc" stroke="#34518f" stroke-width="1.0" stroke-linejoin="round"/>
<path d="M383.1,285.5 C385.2,285.5 393.4,285.6 396.0,285.5 C398.6,285.4 398.2,285.3 399.0,285.0 C399.8,284.7 400.1,284.7 400.6,283.8 C401.1,282.9 401.4,281.9 401.9,279.5 C402.3,277.1 402.8,275.2 403.3,269.5 C403.8,263.8 404.5,251.8 404.8,245.0 C405.1,238.2 405.1,233.5 405.4,229.0 C405.6,224.5 406.0,217.8 406.3,217.8 C406.6,217.8 407.0,224.5 407.3,229.0 C407.6,233.5 407.8,238.2 408.3,245.0 C408.8,251.8 409.6,263.8 410.2,269.5 C410.8,275.2 411.2,277.1 411.6,279.5 C412.1,281.9 412.4,282.9 412.9,283.8 C413.4,284.7 413.8,284.7 414.6,285.0 C415.5,285.3 407.3,285.4 418.0,285.5 C428.7,285.6 468.8,285.5 479.0,285.5" fill="none" stroke="#bd1f4c" stroke-width="1.1" stroke-linejoin="round"/>
<path d="M63.5,436.2 L63.9,435.2 L64.3,433.9 L64.7,432.6 L65.1,431.1 L65.5,429.6 L65.9,428.1 L66.3,426.5 L66.7,424.9 L67.1,423.3 L67.5,421.6 L67.9,420.0 L68.3,418.3 L68.7,416.5 L69.1,414.8 L69.5,413.0 L69.9,415.0 L70.3,417.1 L70.7,419.0 L71.1,421.0 L71.5,422.9 L71.9,424.8 L72.3,426.7 L72.7,428.5 L73.1,430.2 L73.5,431.9 L73.9,433.5 L74.3,435.0 L74.7,436.2 Z" fill="#8d94bc" stroke="#34518f" stroke-width="1.0" stroke-linejoin="round"/>
<path d="M63.2,436.2 L63.6,436.2 L64.0,435.2 L64.4,434.0 L64.8,432.7 L65.2,431.4 L65.6,430.0 L66.0,428.5 L66.4,427.0 L66.8,425.5 L67.2,424.0 L67.6,422.4 L68.0,420.8 L68.4,419.2 L68.8,417.5 L69.2,415.9 L69.6,414.2 L70.0,416.1 L70.4,418.0 L70.8,419.9 L71.2,421.8 L71.6,423.6 L72.0,425.4 L72.4,427.2 L72.8,428.9 L73.2,430.5 L73.6,432.1 L74.0,433.6 L74.4,435.0 L74.8,436.2 L75.2,436.2 M79.5,436.2 L79.9,436.2 L80.3,436.2 L80.7,436.1 L81.1,436.0 L81.5,435.9 L81.9,435.6 L82.3,435.2 L82.7,434.8 L83.1,434.4 L83.5,434.2 L83.9,434.1 L84.3,434.3 L84.7,434.6 L85.1,435.0 L85.5,435.4 L85.9,435.7 L86.3,436.0 L86.7,436.1 L87.1,436.2 L87.5,436.2 L87.9,436.2 L88.0,436.2" fill="none" stroke="#bd1f4c" stroke-width="1.1" stroke-linejoin="round"/>
<path d="M175.1,436.2 L175.5,429.2 L175.9,422.1 L176.3,415.1 L176.7,408.1 L177.1,401.0 L177.5,394.0 L177.9,387.0 L178.3,379.9 L178.7,372.9 L179.1,365.9 L179.5,358.8 L179.9,351.8 L180.1,348.3 L180.3,351.1 L180.7,356.7 L181.1,362.3 L181.5,367.8 L181.9,373.4 L182.3,379.0 L182.7,384.6 L183.1,390.2 L183.5,395.7 L183.9,401.3 L184.3,406.9 L184.7,412.5 L185.1,418.1 L185.5,423.6 L185.9,429.2 L186.3,434.8 L186.4,436.2 Z" fill="#8d94bc" stroke="#34518f" stroke-width="1.0" stroke-linejoin="round"/>
<path d="M174.6,436.2 C174.9,433.7 175.8,427.5 176.3,421.0 C176.8,414.5 177.4,405.3 177.8,397.0 C178.2,388.7 178.7,377.4 179.0,371.0 C179.3,364.6 179.6,361.0 179.9,358.6 C180.2,356.2 180.3,356.5 180.6,356.4 C180.8,356.3 181.1,355.8 181.4,358.2 C181.7,360.6 182.0,364.5 182.5,371.0 C183.0,377.5 183.6,388.7 184.2,397.0 C184.8,405.3 185.4,414.5 186.0,421.0 C186.6,427.5 187.5,433.7 187.8,436.2" fill="none" stroke="#bd1f4c" stroke-width="1.1" stroke-linejoin="round"/>
<path d="M270.1,436.2 C270.5,435.3 271.7,434.6 272.5,431.0 C273.3,427.4 274.2,418.3 275.1,414.6 C276.0,410.9 276.6,410.6 277.6,408.8 C278.6,407.0 280.1,407.0 280.9,403.9 C281.7,400.8 281.9,394.6 282.3,390.0 C282.7,385.4 282.9,379.5 283.4,376.6 C283.8,373.7 284.6,372.5 285.0,372.4 C285.4,372.2 285.6,374.6 286.0,375.7 C286.4,376.8 286.8,376.2 287.5,379.0 C288.2,381.8 289.2,389.2 290.0,392.3 C290.8,395.4 291.9,394.7 292.5,397.3 C293.1,399.9 292.8,403.4 293.3,408.0 C293.9,412.6 295.1,420.5 295.8,424.6 C296.5,428.7 296.9,430.6 297.5,432.5 C298.1,434.4 299.2,435.6 299.5,436.2 Z" fill="#8d94bc" stroke="#34518f" stroke-width="1.0" stroke-linejoin="round"/>
<path d="M270.1,436.0 C270.3,435.8 270.8,437.2 271.5,435.0 C272.2,432.8 273.3,426.7 274.3,423.0 C275.3,419.3 276.7,415.9 277.6,413.0 C278.6,410.1 279.2,407.7 280.0,405.5 C280.8,403.3 281.9,402.3 282.6,399.7 C283.3,397.1 283.7,391.6 284.2,389.8 C284.7,388.0 284.9,388.9 285.5,389.0 C286.1,389.1 286.8,388.8 287.5,390.6 C288.2,392.4 289.3,396.2 290.0,399.7 C290.7,403.1 291.0,406.9 291.7,411.3 C292.4,415.7 293.2,422.6 294.1,426.2 C295.0,429.8 296.1,431.3 297.0,432.8 C297.9,434.3 298.5,434.7 299.5,435.2 C300.5,435.7 291.9,435.9 303.0,436.0 C314.1,436.1 355.5,436.1 366.0,436.1" fill="none" stroke="#bd1f4c" stroke-width="1.1" stroke-linejoin="round"/>
<path d="M392.5,436.2 C393.0,435.6 394.5,434.0 395.3,432.6 C396.1,431.2 396.5,430.8 397.1,427.6 C397.7,424.5 398.4,419.2 398.9,413.7 C399.4,408.2 399.5,401.6 400.1,394.7 C400.7,387.8 401.9,377.7 402.5,372.0 C403.1,366.3 403.4,360.4 403.8,360.4 C404.2,360.4 404.5,366.3 405.1,372.0 C405.7,377.7 406.8,387.8 407.4,394.7 C408.0,401.6 408.0,408.2 408.5,413.7 C409.0,419.2 409.7,424.5 410.3,427.6 C410.9,430.8 411.3,431.2 412.2,432.6 C413.1,434.0 414.9,435.6 415.5,436.2 Z" fill="#8d94bc" stroke="#34518f" stroke-width="1.0" stroke-linejoin="round"/>
<path d="M388.5,436.2 C389.0,436.0 390.6,435.6 391.5,435.0 C392.4,434.4 393.4,433.5 394.2,432.3 C395.0,431.1 395.6,430.7 396.3,427.6 C397.0,424.5 397.7,419.2 398.2,413.7 C398.7,408.2 398.8,402.2 399.4,394.7 C400.0,387.2 401.4,375.5 402.1,368.6 C402.8,361.7 403.2,353.5 403.8,353.5 C404.4,353.5 404.8,361.7 405.5,368.6 C406.2,375.5 407.5,387.2 408.1,394.7 C408.7,402.2 408.7,408.2 409.2,413.7 C409.7,419.2 410.4,424.5 411.0,427.6 C411.6,430.7 412.3,431.1 413.1,432.3 C413.9,433.5 414.9,434.4 416.0,435.0 C417.1,435.6 418.9,436.0 419.5,436.2" fill="none" stroke="#bd1f4c" stroke-width="1.1" stroke-linejoin="round"/>
<line x1="48.30" y1="286.80" x2="144.70" y2="286.80" stroke="#151515" stroke-width="1.4" />
<line x1="157.80" y1="286.80" x2="254.20" y2="286.80" stroke="#151515" stroke-width="1.4" />
<line x1="269.40" y1="286.80" x2="365.80" y2="286.80" stroke="#151515" stroke-width="1.4" />
<line x1="382.50" y1="286.80" x2="478.90" y2="286.80" stroke="#151515" stroke-width="1.4" />
<line x1="48.70" y1="436.60" x2="145.10" y2="436.60" stroke="#151515" stroke-width="1.4" />
<line x1="157.70" y1="436.60" x2="254.10" y2="436.60" stroke="#151515" stroke-width="1.4" />
<line x1="269.50" y1="436.60" x2="365.90" y2="436.60" stroke="#151515" stroke-width="1.4" />
<line x1="382.50" y1="436.60" x2="478.90" y2="436.60" stroke="#151515" stroke-width="1.4" />
<text x="96.50" y="186.60" font-size="10.4" text-anchor="middle" textLength="54.5" lengthAdjust="spacingAndGlyphs" >CD4<tspan font-size="7.4" dy="-3.5">+</tspan><tspan dy="3.5"> T cells</tspan></text>
<text x="206.40" y="186.60" font-size="10.4" text-anchor="middle" textLength="53.5" lengthAdjust="spacingAndGlyphs" >CD8<tspan font-size="7.4" dy="-3.5">+</tspan><tspan dy="3.5"> T cells</tspan></text>
<text x="317.90" y="186.60" font-size="10.4" text-anchor="middle" textLength="43.1" lengthAdjust="spacingAndGlyphs" >NK T cells</text>
<text x="431.20" y="186.60" font-size="10.4" text-anchor="middle" textLength="27.6" lengthAdjust="spacingAndGlyphs" >B cells</text>
<text x="95.90" y="325.10" font-size="10.4" text-anchor="middle" textLength="57.7" lengthAdjust="spacingAndGlyphs" >CD16<tspan font-size="7.4" dy="-3.5">+</tspan><tspan dy="3.5"> CD56</tspan></text>
<text x="96.00" y="336.30" font-size="10.4" text-anchor="middle" textLength="35.2" lengthAdjust="spacingAndGlyphs" >NK cells</text>
<text x="208.20" y="325.10" font-size="10.4" text-anchor="middle" textLength="54.1" lengthAdjust="spacingAndGlyphs" >CD16<tspan font-size="7.4" dy="-3.5">+</tspan><tspan dy="3.5"> CD5</tspan><tspan font-size="6.6" dy="-3.7">-</tspan></text>
<text x="208.60" y="336.30" font-size="10.4" text-anchor="middle" textLength="35.2" lengthAdjust="spacingAndGlyphs" >NK cells</text>
<text x="320.50" y="336.30" font-size="10.4" text-anchor="middle" textLength="48.1" lengthAdjust="spacingAndGlyphs" >Monocytes</text>
<text x="432.20" y="336.30" font-size="10.4" text-anchor="middle" textLength="50.7" lengthAdjust="spacingAndGlyphs" >Neutrophils</text>
<rect x="223.4" y="461.8" width="42.6" height="13.6" rx="1.2" fill="none" stroke="#5570a8" stroke-width="1.1"/>
<rect x="271.5" y="461.8" width="42.3" height="13.6" rx="1.2" fill="none" stroke="#c23a5e" stroke-width="1.1"/>
<text x="244.90" y="471.60" font-size="8.8" text-anchor="middle" textLength="27.0" lengthAdjust="spacingAndGlyphs" >Isotype</text>
<text x="292.80" y="471.60" font-size="8.8" text-anchor="middle" textLength="32.8" lengthAdjust="spacingAndGlyphs" >GPRC5D</text>
<rect x="0" y="0" width="520" height="1" fill="#000"/>
<rect x="0" y="0" width="1" height="483" fill="#000"/>
<rect x="518" y="0" width="1" height="483" fill="#8f8f8f"/>
<rect x="0" y="481" width="520" height="1" fill="#adadad"/>
<rect x="519" y="0" width="1" height="483" fill="#000"/>
<rect x="0" y="482" width="520" height="1" fill="#000"/>
</svg>
</body></html>
